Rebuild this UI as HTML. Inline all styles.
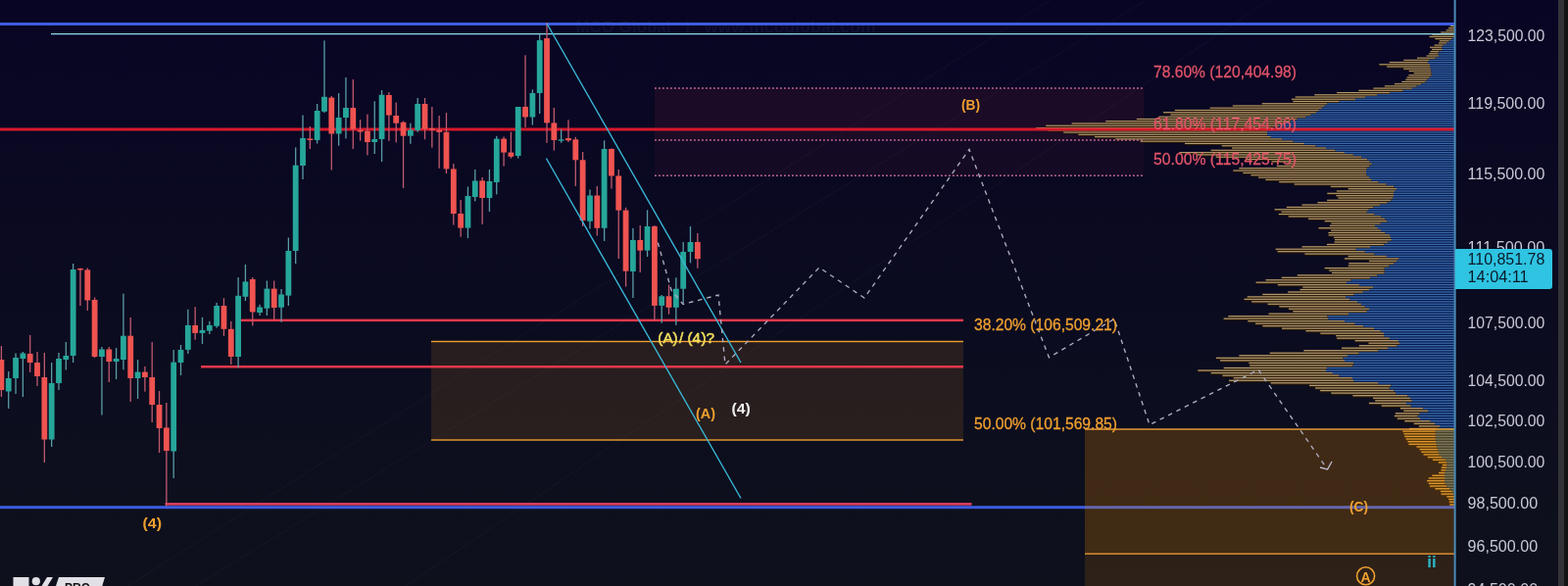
<!DOCTYPE html><html><head><meta charset="utf-8"><title>Chart</title><style>
html,body{margin:0;padding:0;width:1600px;height:598px;overflow:hidden;background:#080524;}
svg{display:block;position:absolute;left:0;top:0;}
text{font-family:"Liberation Sans","DejaVu Sans",sans-serif;}
</style></head><body>
<svg width="1600" height="598" viewBox="0 0 1600 598">
<defs><linearGradient id="bg" x1="0" y1="0" x2="0" y2="1"><stop offset="0" stop-color="#080524"/><stop offset="1" stop-color="#0e111c"/></linearGradient></defs>
<rect x="0" y="0" width="1600" height="598" fill="url(#bg)"/>
<text x="587.5" y="33" font-size="16" font-weight="bold" fill="#110f30" textLength="97" lengthAdjust="spacingAndGlyphs">MCO Global</text>
<text x="699.5" y="33" font-size="16" font-weight="bold" fill="#110f30">|</text>
<text x="718.7" y="33" font-size="16" font-weight="bold" fill="#110f30" textLength="175" lengthAdjust="spacingAndGlyphs">www.mcoglobal.com</text>
<line x1="0.0" y1="681.1" x2="1484.0" y2="-261.8" stroke="#ffffff" stroke-opacity="0.035" stroke-width="1"/>
<line x1="0.0" y1="721.0" x2="1484.0" y2="-194.0" stroke="#ffffff" stroke-opacity="0.035" stroke-width="1"/>
<line x1="0.0" y1="879.2" x2="1484.0" y2="-128.7" stroke="#ffffff" stroke-opacity="0.035" stroke-width="1"/>
<rect x="668" y="90" width="499" height="53" fill="#c83050" fill-opacity="0.10"/>
<rect x="668" y="143" width="499" height="36" fill="#c83050" fill-opacity="0.06"/>
<rect x="1479.9" y="26.00" width="4.1" height="2.16" fill="#2a1906"/>
<rect x="1479.9" y="26.00" width="4.1" height="1.08" fill="#b39a70"/>
<rect x="1478.0" y="28.16" width="6.0" height="2.16" fill="#2a1906"/>
<rect x="1478.0" y="28.16" width="6.0" height="1.08" fill="#b39a70"/>
<rect x="1475.7" y="30.32" width="8.3" height="2.16" fill="#2a1906"/>
<rect x="1475.7" y="30.32" width="8.3" height="1.08" fill="#b39a70"/>
<rect x="1470.1" y="32.48" width="13.9" height="2.17" fill="#2a1906"/>
<rect x="1470.1" y="32.48" width="13.9" height="1.08" fill="#b39a70"/>
<rect x="1461.5" y="34.65" width="22.5" height="2.17" fill="#2a1906"/>
<rect x="1461.5" y="34.65" width="22.5" height="1.08" fill="#b39a70"/>
<rect x="1458.5" y="36.82" width="25.5" height="2.17" fill="#2a1906"/>
<rect x="1458.5" y="36.82" width="25.5" height="1.09" fill="#b39a70"/>
<rect x="1481.2" y="38.99" width="2.8" height="2.17" fill="#031a50"/>
<rect x="1481.2" y="38.99" width="2.8" height="1.09" fill="#3e6cac"/>
<rect x="1464.3" y="38.99" width="16.9" height="2.17" fill="#2a1906"/>
<rect x="1464.3" y="38.99" width="16.9" height="1.09" fill="#b39a70"/>
<rect x="1478.7" y="41.16" width="5.3" height="2.17" fill="#031a50"/>
<rect x="1478.7" y="41.16" width="5.3" height="1.09" fill="#3e6cac"/>
<rect x="1468.8" y="41.16" width="9.8" height="2.17" fill="#2a1906"/>
<rect x="1468.8" y="41.16" width="9.8" height="1.09" fill="#b39a70"/>
<rect x="1476.3" y="43.33" width="7.7" height="2.18" fill="#031a50"/>
<rect x="1476.3" y="43.33" width="7.7" height="1.09" fill="#3e6cac"/>
<rect x="1468.1" y="43.33" width="8.2" height="2.18" fill="#2a1906"/>
<rect x="1468.1" y="43.33" width="8.2" height="1.09" fill="#b39a70"/>
<rect x="1472.7" y="45.51" width="11.3" height="2.18" fill="#031a50"/>
<rect x="1472.7" y="45.51" width="11.3" height="1.09" fill="#3e6cac"/>
<rect x="1463.6" y="45.51" width="9.1" height="2.18" fill="#2a1906"/>
<rect x="1463.6" y="45.51" width="9.1" height="1.09" fill="#b39a70"/>
<rect x="1471.2" y="47.69" width="12.8" height="2.18" fill="#031a50"/>
<rect x="1471.2" y="47.69" width="12.8" height="1.09" fill="#3e6cac"/>
<rect x="1459.0" y="47.69" width="12.2" height="2.18" fill="#2a1906"/>
<rect x="1459.0" y="47.69" width="12.2" height="1.09" fill="#b39a70"/>
<rect x="1471.8" y="49.87" width="12.2" height="2.18" fill="#031a50"/>
<rect x="1471.8" y="49.87" width="12.2" height="1.09" fill="#3e6cac"/>
<rect x="1461.1" y="49.87" width="10.6" height="2.18" fill="#2a1906"/>
<rect x="1461.1" y="49.87" width="10.6" height="1.09" fill="#b39a70"/>
<rect x="1468.5" y="52.06" width="15.5" height="2.19" fill="#031a50"/>
<rect x="1468.5" y="52.06" width="15.5" height="1.09" fill="#3e6cac"/>
<rect x="1459.5" y="52.06" width="8.9" height="2.19" fill="#2a1906"/>
<rect x="1459.5" y="52.06" width="8.9" height="1.09" fill="#b39a70"/>
<rect x="1467.4" y="54.24" width="16.6" height="2.19" fill="#031a50"/>
<rect x="1467.4" y="54.24" width="16.6" height="1.09" fill="#3e6cac"/>
<rect x="1458.0" y="54.24" width="9.4" height="2.19" fill="#2a1906"/>
<rect x="1458.0" y="54.24" width="9.4" height="1.09" fill="#b39a70"/>
<rect x="1468.2" y="56.43" width="15.8" height="2.19" fill="#031a50"/>
<rect x="1468.2" y="56.43" width="15.8" height="1.10" fill="#3e6cac"/>
<rect x="1455.6" y="56.43" width="12.6" height="2.19" fill="#2a1906"/>
<rect x="1455.6" y="56.43" width="12.6" height="1.10" fill="#b39a70"/>
<rect x="1464.4" y="58.62" width="19.6" height="2.19" fill="#031a50"/>
<rect x="1464.4" y="58.62" width="19.6" height="1.10" fill="#3e6cac"/>
<rect x="1446.0" y="58.62" width="18.5" height="2.19" fill="#2a1906"/>
<rect x="1446.0" y="58.62" width="18.5" height="1.10" fill="#b39a70"/>
<rect x="1458.2" y="60.81" width="25.8" height="2.20" fill="#031a50"/>
<rect x="1458.2" y="60.81" width="25.8" height="1.10" fill="#3e6cac"/>
<rect x="1432.3" y="60.81" width="26.0" height="2.20" fill="#2a1906"/>
<rect x="1432.3" y="60.81" width="26.0" height="1.10" fill="#b39a70"/>
<rect x="1456.9" y="63.01" width="27.1" height="2.20" fill="#031a50"/>
<rect x="1456.9" y="63.01" width="27.1" height="1.10" fill="#3e6cac"/>
<rect x="1417.7" y="63.01" width="39.2" height="2.20" fill="#2a1906"/>
<rect x="1417.7" y="63.01" width="39.2" height="1.10" fill="#b39a70"/>
<rect x="1459.0" y="65.21" width="25.0" height="2.20" fill="#031a50"/>
<rect x="1459.0" y="65.21" width="25.0" height="1.10" fill="#3e6cac"/>
<rect x="1407.4" y="65.21" width="51.6" height="2.20" fill="#2a1906"/>
<rect x="1407.4" y="65.21" width="51.6" height="1.10" fill="#b39a70"/>
<rect x="1459.4" y="67.41" width="24.6" height="2.20" fill="#031a50"/>
<rect x="1459.4" y="67.41" width="24.6" height="1.10" fill="#3e6cac"/>
<rect x="1415.2" y="67.41" width="44.2" height="2.20" fill="#2a1906"/>
<rect x="1415.2" y="67.41" width="44.2" height="1.10" fill="#b39a70"/>
<rect x="1459.8" y="69.61" width="24.2" height="2.20" fill="#031a50"/>
<rect x="1459.8" y="69.61" width="24.2" height="1.10" fill="#3e6cac"/>
<rect x="1432.1" y="69.61" width="27.7" height="2.20" fill="#2a1906"/>
<rect x="1432.1" y="69.61" width="27.7" height="1.10" fill="#b39a70"/>
<rect x="1460.2" y="71.81" width="23.8" height="2.21" fill="#031a50"/>
<rect x="1460.2" y="71.81" width="23.8" height="1.10" fill="#3e6cac"/>
<rect x="1437.7" y="71.81" width="22.5" height="2.21" fill="#2a1906"/>
<rect x="1437.7" y="71.81" width="22.5" height="1.10" fill="#b39a70"/>
<rect x="1460.6" y="74.02" width="23.4" height="2.21" fill="#031a50"/>
<rect x="1460.6" y="74.02" width="23.4" height="1.10" fill="#3e6cac"/>
<rect x="1442.6" y="74.02" width="18.0" height="2.21" fill="#2a1906"/>
<rect x="1442.6" y="74.02" width="18.0" height="1.10" fill="#b39a70"/>
<rect x="1460.7" y="76.23" width="23.3" height="2.21" fill="#031a50"/>
<rect x="1460.7" y="76.23" width="23.3" height="1.11" fill="#3e6cac"/>
<rect x="1437.4" y="76.23" width="23.2" height="2.21" fill="#2a1906"/>
<rect x="1437.4" y="76.23" width="23.2" height="1.11" fill="#b39a70"/>
<rect x="1458.5" y="78.44" width="25.5" height="2.21" fill="#031a50"/>
<rect x="1458.5" y="78.44" width="25.5" height="1.11" fill="#3e6cac"/>
<rect x="1435.6" y="78.44" width="22.9" height="2.21" fill="#2a1906"/>
<rect x="1435.6" y="78.44" width="22.9" height="1.11" fill="#b39a70"/>
<rect x="1456.4" y="80.65" width="27.6" height="2.22" fill="#031a50"/>
<rect x="1456.4" y="80.65" width="27.6" height="1.11" fill="#3e6cac"/>
<rect x="1434.3" y="80.65" width="22.0" height="2.22" fill="#2a1906"/>
<rect x="1434.3" y="80.65" width="22.0" height="1.11" fill="#b39a70"/>
<rect x="1454.2" y="82.87" width="29.8" height="2.22" fill="#031a50"/>
<rect x="1454.2" y="82.87" width="29.8" height="1.11" fill="#3e6cac"/>
<rect x="1430.4" y="82.87" width="23.8" height="2.22" fill="#2a1906"/>
<rect x="1430.4" y="82.87" width="23.8" height="1.11" fill="#b39a70"/>
<rect x="1450.1" y="85.09" width="33.9" height="2.22" fill="#031a50"/>
<rect x="1450.1" y="85.09" width="33.9" height="1.11" fill="#3e6cac"/>
<rect x="1423.0" y="85.09" width="27.1" height="2.22" fill="#2a1906"/>
<rect x="1423.0" y="85.09" width="27.1" height="1.11" fill="#b39a70"/>
<rect x="1445.5" y="87.31" width="38.5" height="2.22" fill="#031a50"/>
<rect x="1445.5" y="87.31" width="38.5" height="1.11" fill="#3e6cac"/>
<rect x="1412.9" y="87.31" width="32.6" height="2.22" fill="#2a1906"/>
<rect x="1412.9" y="87.31" width="32.6" height="1.11" fill="#b39a70"/>
<rect x="1441.0" y="89.53" width="43.0" height="2.23" fill="#031a50"/>
<rect x="1441.0" y="89.53" width="43.0" height="1.11" fill="#3e6cac"/>
<rect x="1401.4" y="89.53" width="39.5" height="2.23" fill="#2a1906"/>
<rect x="1401.4" y="89.53" width="39.5" height="1.11" fill="#b39a70"/>
<rect x="1431.5" y="91.75" width="52.5" height="2.23" fill="#031a50"/>
<rect x="1431.5" y="91.75" width="52.5" height="1.11" fill="#3e6cac"/>
<rect x="1386.3" y="91.75" width="45.2" height="2.23" fill="#2a1906"/>
<rect x="1386.3" y="91.75" width="45.2" height="1.11" fill="#b39a70"/>
<rect x="1418.3" y="93.98" width="65.7" height="2.23" fill="#031a50"/>
<rect x="1418.3" y="93.98" width="65.7" height="1.11" fill="#3e6cac"/>
<rect x="1364.2" y="93.98" width="54.1" height="2.23" fill="#2a1906"/>
<rect x="1364.2" y="93.98" width="54.1" height="1.11" fill="#b39a70"/>
<rect x="1405.1" y="96.21" width="78.9" height="2.23" fill="#031a50"/>
<rect x="1405.1" y="96.21" width="78.9" height="1.12" fill="#3e6cac"/>
<rect x="1341.3" y="96.21" width="63.8" height="2.23" fill="#2a1906"/>
<rect x="1341.3" y="96.21" width="63.8" height="1.12" fill="#b39a70"/>
<rect x="1393.2" y="98.44" width="90.8" height="2.23" fill="#031a50"/>
<rect x="1393.2" y="98.44" width="90.8" height="1.12" fill="#3e6cac"/>
<rect x="1321.7" y="98.44" width="71.5" height="2.23" fill="#2a1906"/>
<rect x="1321.7" y="98.44" width="71.5" height="1.12" fill="#b39a70"/>
<rect x="1383.1" y="100.68" width="100.9" height="2.24" fill="#031a50"/>
<rect x="1383.1" y="100.68" width="100.9" height="1.12" fill="#3e6cac"/>
<rect x="1317.9" y="100.68" width="65.1" height="2.24" fill="#2a1906"/>
<rect x="1317.9" y="100.68" width="65.1" height="1.12" fill="#b39a70"/>
<rect x="1366.6" y="102.91" width="117.4" height="2.24" fill="#031a50"/>
<rect x="1366.6" y="102.91" width="117.4" height="1.12" fill="#3e6cac"/>
<rect x="1319.4" y="102.91" width="47.1" height="2.24" fill="#2a1906"/>
<rect x="1319.4" y="102.91" width="47.1" height="1.12" fill="#b39a70"/>
<rect x="1354.2" y="105.15" width="129.8" height="2.24" fill="#031a50"/>
<rect x="1354.2" y="105.15" width="129.8" height="1.12" fill="#3e6cac"/>
<rect x="1287.7" y="105.15" width="66.5" height="2.24" fill="#2a1906"/>
<rect x="1287.7" y="105.15" width="66.5" height="1.12" fill="#b39a70"/>
<rect x="1351.5" y="107.40" width="132.5" height="2.24" fill="#031a50"/>
<rect x="1351.5" y="107.40" width="132.5" height="1.12" fill="#3e6cac"/>
<rect x="1257.8" y="107.40" width="93.7" height="2.24" fill="#2a1906"/>
<rect x="1257.8" y="107.40" width="93.7" height="1.12" fill="#b39a70"/>
<rect x="1348.8" y="109.64" width="135.2" height="2.25" fill="#031a50"/>
<rect x="1348.8" y="109.64" width="135.2" height="1.12" fill="#3e6cac"/>
<rect x="1234.7" y="109.64" width="114.1" height="2.25" fill="#2a1906"/>
<rect x="1234.7" y="109.64" width="114.1" height="1.12" fill="#b39a70"/>
<rect x="1345.8" y="111.89" width="138.2" height="2.25" fill="#031a50"/>
<rect x="1345.8" y="111.89" width="138.2" height="1.12" fill="#3e6cac"/>
<rect x="1198.8" y="111.89" width="147.0" height="2.25" fill="#2a1906"/>
<rect x="1198.8" y="111.89" width="147.0" height="1.12" fill="#b39a70"/>
<rect x="1342.9" y="114.13" width="141.1" height="2.25" fill="#031a50"/>
<rect x="1342.9" y="114.13" width="141.1" height="1.13" fill="#3e6cac"/>
<rect x="1187.1" y="114.13" width="155.8" height="2.25" fill="#2a1906"/>
<rect x="1187.1" y="114.13" width="155.8" height="1.13" fill="#b39a70"/>
<rect x="1337.6" y="116.39" width="146.4" height="2.25" fill="#031a50"/>
<rect x="1337.6" y="116.39" width="146.4" height="1.13" fill="#3e6cac"/>
<rect x="1194.4" y="116.39" width="143.2" height="2.25" fill="#2a1906"/>
<rect x="1194.4" y="116.39" width="143.2" height="1.13" fill="#b39a70"/>
<rect x="1332.4" y="118.64" width="151.6" height="2.26" fill="#031a50"/>
<rect x="1332.4" y="118.64" width="151.6" height="1.13" fill="#3e6cac"/>
<rect x="1182.3" y="118.64" width="150.1" height="2.26" fill="#2a1906"/>
<rect x="1182.3" y="118.64" width="150.1" height="1.13" fill="#b39a70"/>
<rect x="1323.4" y="120.90" width="160.6" height="2.26" fill="#031a50"/>
<rect x="1323.4" y="120.90" width="160.6" height="1.13" fill="#3e6cac"/>
<rect x="1159.8" y="120.90" width="163.6" height="2.26" fill="#2a1906"/>
<rect x="1159.8" y="120.90" width="163.6" height="1.13" fill="#b39a70"/>
<rect x="1316.5" y="123.15" width="167.5" height="2.26" fill="#031a50"/>
<rect x="1316.5" y="123.15" width="167.5" height="1.13" fill="#3e6cac"/>
<rect x="1128.2" y="123.15" width="188.2" height="2.26" fill="#2a1906"/>
<rect x="1128.2" y="123.15" width="188.2" height="1.13" fill="#b39a70"/>
<rect x="1310.7" y="125.41" width="173.3" height="2.26" fill="#031a50"/>
<rect x="1310.7" y="125.41" width="173.3" height="1.13" fill="#3e6cac"/>
<rect x="1093.6" y="125.41" width="217.1" height="2.26" fill="#2a1906"/>
<rect x="1093.6" y="125.41" width="217.1" height="1.13" fill="#b39a70"/>
<rect x="1305.0" y="127.68" width="179.0" height="2.27" fill="#031a50"/>
<rect x="1305.0" y="127.68" width="179.0" height="1.13" fill="#3e6cac"/>
<rect x="1067.2" y="127.68" width="237.8" height="2.27" fill="#2a1906"/>
<rect x="1067.2" y="127.68" width="237.8" height="1.13" fill="#b39a70"/>
<rect x="1299.4" y="129.94" width="184.6" height="2.27" fill="#031a50"/>
<rect x="1299.4" y="129.94" width="184.6" height="1.13" fill="#3e6cac"/>
<rect x="1057.4" y="129.94" width="242.0" height="2.27" fill="#2a1906"/>
<rect x="1057.4" y="129.94" width="242.0" height="1.13" fill="#b39a70"/>
<rect x="1293.9" y="132.21" width="190.1" height="2.27" fill="#031a50"/>
<rect x="1293.9" y="132.21" width="190.1" height="1.14" fill="#3e6cac"/>
<rect x="1069.2" y="132.21" width="224.7" height="2.27" fill="#2a1906"/>
<rect x="1069.2" y="132.21" width="224.7" height="1.14" fill="#b39a70"/>
<rect x="1293.0" y="134.48" width="191.0" height="2.27" fill="#031a50"/>
<rect x="1293.0" y="134.48" width="191.0" height="1.14" fill="#3e6cac"/>
<rect x="1085.2" y="134.48" width="207.8" height="2.27" fill="#2a1906"/>
<rect x="1085.2" y="134.48" width="207.8" height="1.14" fill="#b39a70"/>
<rect x="1293.0" y="136.76" width="191.0" height="2.28" fill="#031a50"/>
<rect x="1293.0" y="136.76" width="191.0" height="1.14" fill="#3e6cac"/>
<rect x="1100.3" y="136.76" width="192.7" height="2.28" fill="#2a1906"/>
<rect x="1100.3" y="136.76" width="192.7" height="1.14" fill="#b39a70"/>
<rect x="1296.8" y="139.03" width="187.2" height="2.28" fill="#031a50"/>
<rect x="1296.8" y="139.03" width="187.2" height="1.14" fill="#3e6cac"/>
<rect x="1117.0" y="139.03" width="179.8" height="2.28" fill="#2a1906"/>
<rect x="1117.0" y="139.03" width="179.8" height="1.14" fill="#b39a70"/>
<rect x="1308.2" y="141.31" width="175.8" height="2.28" fill="#031a50"/>
<rect x="1308.2" y="141.31" width="175.8" height="1.14" fill="#3e6cac"/>
<rect x="1138.3" y="141.31" width="169.9" height="2.28" fill="#2a1906"/>
<rect x="1138.3" y="141.31" width="169.9" height="1.14" fill="#b39a70"/>
<rect x="1319.7" y="143.59" width="164.3" height="2.28" fill="#031a50"/>
<rect x="1319.7" y="143.59" width="164.3" height="1.14" fill="#3e6cac"/>
<rect x="1163.5" y="143.59" width="156.1" height="2.28" fill="#2a1906"/>
<rect x="1163.5" y="143.59" width="156.1" height="1.14" fill="#b39a70"/>
<rect x="1331.1" y="145.87" width="152.9" height="2.29" fill="#031a50"/>
<rect x="1331.1" y="145.87" width="152.9" height="1.14" fill="#3e6cac"/>
<rect x="1209.0" y="145.87" width="122.0" height="2.29" fill="#2a1906"/>
<rect x="1209.0" y="145.87" width="122.0" height="1.14" fill="#b39a70"/>
<rect x="1342.5" y="148.16" width="141.5" height="2.29" fill="#031a50"/>
<rect x="1342.5" y="148.16" width="141.5" height="1.14" fill="#3e6cac"/>
<rect x="1246.7" y="148.16" width="95.8" height="2.29" fill="#2a1906"/>
<rect x="1246.7" y="148.16" width="95.8" height="1.14" fill="#b39a70"/>
<rect x="1353.1" y="150.45" width="130.9" height="2.29" fill="#031a50"/>
<rect x="1353.1" y="150.45" width="130.9" height="1.15" fill="#3e6cac"/>
<rect x="1257.0" y="150.45" width="96.0" height="2.29" fill="#2a1906"/>
<rect x="1257.0" y="150.45" width="96.0" height="1.15" fill="#b39a70"/>
<rect x="1362.5" y="152.74" width="121.5" height="2.29" fill="#031a50"/>
<rect x="1362.5" y="152.74" width="121.5" height="1.15" fill="#3e6cac"/>
<rect x="1235.7" y="152.74" width="126.8" height="2.29" fill="#2a1906"/>
<rect x="1235.7" y="152.74" width="126.8" height="1.15" fill="#b39a70"/>
<rect x="1371.9" y="155.03" width="112.1" height="2.30" fill="#031a50"/>
<rect x="1371.9" y="155.03" width="112.1" height="1.15" fill="#3e6cac"/>
<rect x="1203.3" y="155.03" width="168.6" height="2.30" fill="#2a1906"/>
<rect x="1203.3" y="155.03" width="168.6" height="1.15" fill="#b39a70"/>
<rect x="1380.8" y="157.32" width="103.2" height="2.30" fill="#031a50"/>
<rect x="1380.8" y="157.32" width="103.2" height="1.15" fill="#3e6cac"/>
<rect x="1221.0" y="157.32" width="159.8" height="2.30" fill="#2a1906"/>
<rect x="1221.0" y="157.32" width="159.8" height="1.15" fill="#b39a70"/>
<rect x="1389.6" y="159.62" width="94.4" height="2.30" fill="#031a50"/>
<rect x="1389.6" y="159.62" width="94.4" height="1.15" fill="#3e6cac"/>
<rect x="1240.6" y="159.62" width="149.0" height="2.30" fill="#2a1906"/>
<rect x="1240.6" y="159.62" width="149.0" height="1.15" fill="#b39a70"/>
<rect x="1395.3" y="161.92" width="88.7" height="2.30" fill="#031a50"/>
<rect x="1395.3" y="161.92" width="88.7" height="1.15" fill="#3e6cac"/>
<rect x="1271.3" y="161.92" width="123.9" height="2.30" fill="#2a1906"/>
<rect x="1271.3" y="161.92" width="123.9" height="1.15" fill="#b39a70"/>
<rect x="1397.7" y="164.22" width="86.3" height="2.31" fill="#031a50"/>
<rect x="1397.7" y="164.22" width="86.3" height="1.15" fill="#3e6cac"/>
<rect x="1297.5" y="164.22" width="100.2" height="2.31" fill="#2a1906"/>
<rect x="1297.5" y="164.22" width="100.2" height="1.15" fill="#b39a70"/>
<rect x="1399.8" y="166.53" width="84.2" height="2.31" fill="#031a50"/>
<rect x="1399.8" y="166.53" width="84.2" height="1.15" fill="#3e6cac"/>
<rect x="1312.9" y="166.53" width="86.9" height="2.31" fill="#2a1906"/>
<rect x="1312.9" y="166.53" width="86.9" height="1.15" fill="#b39a70"/>
<rect x="1397.3" y="168.84" width="86.7" height="2.31" fill="#031a50"/>
<rect x="1397.3" y="168.84" width="86.7" height="1.16" fill="#3e6cac"/>
<rect x="1302.8" y="168.84" width="94.5" height="2.31" fill="#2a1906"/>
<rect x="1302.8" y="168.84" width="94.5" height="1.16" fill="#b39a70"/>
<rect x="1394.8" y="171.15" width="89.2" height="2.31" fill="#031a50"/>
<rect x="1394.8" y="171.15" width="89.2" height="1.16" fill="#3e6cac"/>
<rect x="1264.3" y="171.15" width="130.5" height="2.31" fill="#2a1906"/>
<rect x="1264.3" y="171.15" width="130.5" height="1.16" fill="#b39a70"/>
<rect x="1394.0" y="173.46" width="90.0" height="2.32" fill="#031a50"/>
<rect x="1394.0" y="173.46" width="90.0" height="1.16" fill="#3e6cac"/>
<rect x="1258.3" y="173.46" width="135.7" height="2.32" fill="#2a1906"/>
<rect x="1258.3" y="173.46" width="135.7" height="1.16" fill="#b39a70"/>
<rect x="1394.0" y="175.78" width="90.0" height="2.32" fill="#031a50"/>
<rect x="1394.0" y="175.78" width="90.0" height="1.16" fill="#3e6cac"/>
<rect x="1268.3" y="175.78" width="125.7" height="2.32" fill="#2a1906"/>
<rect x="1268.3" y="175.78" width="125.7" height="1.16" fill="#b39a70"/>
<rect x="1394.6" y="178.09" width="89.4" height="2.32" fill="#031a50"/>
<rect x="1394.6" y="178.09" width="89.4" height="1.16" fill="#3e6cac"/>
<rect x="1276.4" y="178.09" width="118.2" height="2.32" fill="#2a1906"/>
<rect x="1276.4" y="178.09" width="118.2" height="1.16" fill="#b39a70"/>
<rect x="1397.0" y="180.41" width="87.0" height="2.32" fill="#031a50"/>
<rect x="1397.0" y="180.41" width="87.0" height="1.16" fill="#3e6cac"/>
<rect x="1284.0" y="180.41" width="113.0" height="2.32" fill="#2a1906"/>
<rect x="1284.0" y="180.41" width="113.0" height="1.16" fill="#b39a70"/>
<rect x="1399.5" y="182.74" width="84.5" height="2.33" fill="#031a50"/>
<rect x="1399.5" y="182.74" width="84.5" height="1.16" fill="#3e6cac"/>
<rect x="1291.4" y="182.74" width="108.1" height="2.33" fill="#2a1906"/>
<rect x="1291.4" y="182.74" width="108.1" height="1.16" fill="#b39a70"/>
<rect x="1406.4" y="185.06" width="77.6" height="2.33" fill="#031a50"/>
<rect x="1406.4" y="185.06" width="77.6" height="1.16" fill="#3e6cac"/>
<rect x="1305.2" y="185.06" width="101.2" height="2.33" fill="#2a1906"/>
<rect x="1305.2" y="185.06" width="101.2" height="1.16" fill="#b39a70"/>
<rect x="1414.5" y="187.39" width="69.5" height="2.33" fill="#031a50"/>
<rect x="1414.5" y="187.39" width="69.5" height="1.17" fill="#3e6cac"/>
<rect x="1320.7" y="187.39" width="93.8" height="2.33" fill="#2a1906"/>
<rect x="1320.7" y="187.39" width="93.8" height="1.17" fill="#b39a70"/>
<rect x="1422.4" y="189.72" width="61.6" height="2.33" fill="#031a50"/>
<rect x="1422.4" y="189.72" width="61.6" height="1.17" fill="#3e6cac"/>
<rect x="1357.8" y="189.72" width="64.6" height="2.33" fill="#2a1906"/>
<rect x="1357.8" y="189.72" width="64.6" height="1.17" fill="#b39a70"/>
<rect x="1425.0" y="192.06" width="59.0" height="2.34" fill="#031a50"/>
<rect x="1425.0" y="192.06" width="59.0" height="1.17" fill="#3e6cac"/>
<rect x="1375.7" y="192.06" width="49.3" height="2.34" fill="#2a1906"/>
<rect x="1375.7" y="192.06" width="49.3" height="1.17" fill="#b39a70"/>
<rect x="1423.0" y="194.39" width="61.0" height="2.34" fill="#031a50"/>
<rect x="1423.0" y="194.39" width="61.0" height="1.17" fill="#3e6cac"/>
<rect x="1363.9" y="194.39" width="59.1" height="2.34" fill="#2a1906"/>
<rect x="1363.9" y="194.39" width="59.1" height="1.17" fill="#b39a70"/>
<rect x="1422.0" y="196.73" width="62.0" height="2.34" fill="#031a50"/>
<rect x="1422.0" y="196.73" width="62.0" height="1.17" fill="#3e6cac"/>
<rect x="1354.3" y="196.73" width="67.7" height="2.34" fill="#2a1906"/>
<rect x="1354.3" y="196.73" width="67.7" height="1.17" fill="#b39a70"/>
<rect x="1422.0" y="199.07" width="62.0" height="2.34" fill="#031a50"/>
<rect x="1422.0" y="199.07" width="62.0" height="1.17" fill="#3e6cac"/>
<rect x="1363.4" y="199.07" width="58.6" height="2.34" fill="#2a1906"/>
<rect x="1363.4" y="199.07" width="58.6" height="1.17" fill="#b39a70"/>
<rect x="1421.2" y="201.41" width="62.8" height="2.35" fill="#031a50"/>
<rect x="1421.2" y="201.41" width="62.8" height="1.17" fill="#3e6cac"/>
<rect x="1365.4" y="201.41" width="55.8" height="2.35" fill="#2a1906"/>
<rect x="1365.4" y="201.41" width="55.8" height="1.17" fill="#b39a70"/>
<rect x="1419.3" y="203.76" width="64.7" height="2.35" fill="#031a50"/>
<rect x="1419.3" y="203.76" width="64.7" height="1.17" fill="#3e6cac"/>
<rect x="1354.1" y="203.76" width="65.1" height="2.35" fill="#2a1906"/>
<rect x="1354.1" y="203.76" width="65.1" height="1.17" fill="#b39a70"/>
<rect x="1415.5" y="206.11" width="68.5" height="2.35" fill="#031a50"/>
<rect x="1415.5" y="206.11" width="68.5" height="1.18" fill="#3e6cac"/>
<rect x="1344.5" y="206.11" width="71.0" height="2.35" fill="#2a1906"/>
<rect x="1344.5" y="206.11" width="71.0" height="1.18" fill="#b39a70"/>
<rect x="1408.1" y="208.46" width="75.9" height="2.35" fill="#031a50"/>
<rect x="1408.1" y="208.46" width="75.9" height="1.18" fill="#3e6cac"/>
<rect x="1328.5" y="208.46" width="79.6" height="2.35" fill="#2a1906"/>
<rect x="1328.5" y="208.46" width="79.6" height="1.18" fill="#b39a70"/>
<rect x="1401.4" y="210.82" width="82.6" height="2.36" fill="#031a50"/>
<rect x="1401.4" y="210.82" width="82.6" height="1.18" fill="#3e6cac"/>
<rect x="1312.8" y="210.82" width="88.6" height="2.36" fill="#2a1906"/>
<rect x="1312.8" y="210.82" width="88.6" height="1.18" fill="#b39a70"/>
<rect x="1396.7" y="213.17" width="87.3" height="2.36" fill="#031a50"/>
<rect x="1396.7" y="213.17" width="87.3" height="1.18" fill="#3e6cac"/>
<rect x="1300.6" y="213.17" width="96.1" height="2.36" fill="#2a1906"/>
<rect x="1300.6" y="213.17" width="96.1" height="1.18" fill="#b39a70"/>
<rect x="1394.7" y="215.53" width="89.3" height="2.36" fill="#031a50"/>
<rect x="1394.7" y="215.53" width="89.3" height="1.18" fill="#3e6cac"/>
<rect x="1307.5" y="215.53" width="87.2" height="2.36" fill="#2a1906"/>
<rect x="1307.5" y="215.53" width="87.2" height="1.18" fill="#b39a70"/>
<rect x="1402.3" y="217.89" width="81.7" height="2.36" fill="#031a50"/>
<rect x="1402.3" y="217.89" width="81.7" height="1.18" fill="#3e6cac"/>
<rect x="1304.8" y="217.89" width="97.5" height="2.36" fill="#2a1906"/>
<rect x="1304.8" y="217.89" width="97.5" height="1.18" fill="#b39a70"/>
<rect x="1409.3" y="220.26" width="74.7" height="2.37" fill="#031a50"/>
<rect x="1409.3" y="220.26" width="74.7" height="1.18" fill="#3e6cac"/>
<rect x="1314.7" y="220.26" width="94.6" height="2.37" fill="#2a1906"/>
<rect x="1314.7" y="220.26" width="94.6" height="1.18" fill="#b39a70"/>
<rect x="1413.2" y="222.63" width="70.8" height="2.37" fill="#031a50"/>
<rect x="1413.2" y="222.63" width="70.8" height="1.19" fill="#3e6cac"/>
<rect x="1335.0" y="222.63" width="78.2" height="2.37" fill="#2a1906"/>
<rect x="1335.0" y="222.63" width="78.2" height="1.19" fill="#b39a70"/>
<rect x="1415.3" y="225.00" width="68.7" height="2.37" fill="#031a50"/>
<rect x="1415.3" y="225.00" width="68.7" height="1.19" fill="#3e6cac"/>
<rect x="1351.7" y="225.00" width="63.6" height="2.37" fill="#2a1906"/>
<rect x="1351.7" y="225.00" width="63.6" height="1.19" fill="#b39a70"/>
<rect x="1408.7" y="227.37" width="75.3" height="2.38" fill="#031a50"/>
<rect x="1408.7" y="227.37" width="75.3" height="1.19" fill="#3e6cac"/>
<rect x="1358.3" y="227.37" width="50.4" height="2.38" fill="#2a1906"/>
<rect x="1358.3" y="227.37" width="50.4" height="1.19" fill="#b39a70"/>
<rect x="1403.1" y="229.74" width="80.9" height="2.38" fill="#031a50"/>
<rect x="1403.1" y="229.74" width="80.9" height="1.19" fill="#3e6cac"/>
<rect x="1356.8" y="229.74" width="46.3" height="2.38" fill="#2a1906"/>
<rect x="1356.8" y="229.74" width="46.3" height="1.19" fill="#b39a70"/>
<rect x="1406.0" y="232.12" width="78.0" height="2.38" fill="#031a50"/>
<rect x="1406.0" y="232.12" width="78.0" height="1.19" fill="#3e6cac"/>
<rect x="1345.5" y="232.12" width="60.4" height="2.38" fill="#2a1906"/>
<rect x="1345.5" y="232.12" width="60.4" height="1.19" fill="#b39a70"/>
<rect x="1409.0" y="234.50" width="75.0" height="2.38" fill="#031a50"/>
<rect x="1409.0" y="234.50" width="75.0" height="1.19" fill="#3e6cac"/>
<rect x="1358.1" y="234.50" width="50.9" height="2.38" fill="#2a1906"/>
<rect x="1358.1" y="234.50" width="50.9" height="1.19" fill="#b39a70"/>
<rect x="1413.5" y="236.89" width="70.5" height="2.39" fill="#031a50"/>
<rect x="1413.5" y="236.89" width="70.5" height="1.19" fill="#3e6cac"/>
<rect x="1355.4" y="236.89" width="58.1" height="2.39" fill="#2a1906"/>
<rect x="1355.4" y="236.89" width="58.1" height="1.19" fill="#b39a70"/>
<rect x="1418.0" y="239.27" width="66.0" height="2.39" fill="#031a50"/>
<rect x="1418.0" y="239.27" width="66.0" height="1.19" fill="#3e6cac"/>
<rect x="1355.6" y="239.27" width="62.5" height="2.39" fill="#2a1906"/>
<rect x="1355.6" y="239.27" width="62.5" height="1.19" fill="#b39a70"/>
<rect x="1419.0" y="241.66" width="65.0" height="2.39" fill="#031a50"/>
<rect x="1419.0" y="241.66" width="65.0" height="1.20" fill="#3e6cac"/>
<rect x="1361.1" y="241.66" width="58.0" height="2.39" fill="#2a1906"/>
<rect x="1361.1" y="241.66" width="58.0" height="1.20" fill="#b39a70"/>
<rect x="1419.9" y="244.05" width="64.1" height="2.39" fill="#031a50"/>
<rect x="1419.9" y="244.05" width="64.1" height="1.20" fill="#3e6cac"/>
<rect x="1362.0" y="244.05" width="57.9" height="2.39" fill="#2a1906"/>
<rect x="1362.0" y="244.05" width="57.9" height="1.20" fill="#b39a70"/>
<rect x="1416.2" y="246.45" width="67.8" height="2.40" fill="#031a50"/>
<rect x="1416.2" y="246.45" width="67.8" height="1.20" fill="#3e6cac"/>
<rect x="1361.6" y="246.45" width="54.6" height="2.40" fill="#2a1906"/>
<rect x="1361.6" y="246.45" width="54.6" height="1.20" fill="#b39a70"/>
<rect x="1412.2" y="248.84" width="71.8" height="2.40" fill="#031a50"/>
<rect x="1412.2" y="248.84" width="71.8" height="1.20" fill="#3e6cac"/>
<rect x="1353.9" y="248.84" width="58.3" height="2.40" fill="#2a1906"/>
<rect x="1353.9" y="248.84" width="58.3" height="1.20" fill="#b39a70"/>
<rect x="1398.0" y="251.24" width="86.0" height="2.40" fill="#031a50"/>
<rect x="1398.0" y="251.24" width="86.0" height="1.20" fill="#3e6cac"/>
<rect x="1328.5" y="251.24" width="69.5" height="2.40" fill="#2a1906"/>
<rect x="1328.5" y="251.24" width="69.5" height="1.20" fill="#b39a70"/>
<rect x="1383.7" y="253.65" width="100.3" height="2.41" fill="#031a50"/>
<rect x="1383.7" y="253.65" width="100.3" height="1.20" fill="#3e6cac"/>
<rect x="1301.6" y="253.65" width="82.1" height="2.41" fill="#2a1906"/>
<rect x="1301.6" y="253.65" width="82.1" height="1.20" fill="#b39a70"/>
<rect x="1392.7" y="256.05" width="91.3" height="2.41" fill="#031a50"/>
<rect x="1392.7" y="256.05" width="91.3" height="1.20" fill="#3e6cac"/>
<rect x="1303.6" y="256.05" width="89.1" height="2.41" fill="#2a1906"/>
<rect x="1303.6" y="256.05" width="89.1" height="1.20" fill="#b39a70"/>
<rect x="1402.3" y="258.46" width="81.7" height="2.41" fill="#031a50"/>
<rect x="1402.3" y="258.46" width="81.7" height="1.21" fill="#3e6cac"/>
<rect x="1331.4" y="258.46" width="70.8" height="2.41" fill="#2a1906"/>
<rect x="1331.4" y="258.46" width="70.8" height="1.21" fill="#b39a70"/>
<rect x="1414.8" y="260.87" width="69.2" height="2.41" fill="#031a50"/>
<rect x="1414.8" y="260.87" width="69.2" height="1.21" fill="#3e6cac"/>
<rect x="1375.6" y="260.87" width="39.2" height="2.41" fill="#2a1906"/>
<rect x="1375.6" y="260.87" width="39.2" height="1.21" fill="#b39a70"/>
<rect x="1427.4" y="263.28" width="56.6" height="2.42" fill="#031a50"/>
<rect x="1427.4" y="263.28" width="56.6" height="1.21" fill="#3e6cac"/>
<rect x="1372.0" y="263.28" width="55.5" height="2.42" fill="#2a1906"/>
<rect x="1372.0" y="263.28" width="55.5" height="1.21" fill="#b39a70"/>
<rect x="1425.1" y="265.70" width="58.9" height="2.42" fill="#031a50"/>
<rect x="1425.1" y="265.70" width="58.9" height="1.21" fill="#3e6cac"/>
<rect x="1396.9" y="265.70" width="28.2" height="2.42" fill="#2a1906"/>
<rect x="1396.9" y="265.70" width="28.2" height="1.21" fill="#b39a70"/>
<rect x="1422.1" y="268.12" width="61.9" height="2.42" fill="#031a50"/>
<rect x="1422.1" y="268.12" width="61.9" height="1.21" fill="#3e6cac"/>
<rect x="1376.3" y="268.12" width="45.8" height="2.42" fill="#2a1906"/>
<rect x="1376.3" y="268.12" width="45.8" height="1.21" fill="#b39a70"/>
<rect x="1417.4" y="270.54" width="66.6" height="2.42" fill="#031a50"/>
<rect x="1417.4" y="270.54" width="66.6" height="1.21" fill="#3e6cac"/>
<rect x="1375.7" y="270.54" width="41.7" height="2.42" fill="#2a1906"/>
<rect x="1375.7" y="270.54" width="41.7" height="1.21" fill="#b39a70"/>
<rect x="1412.7" y="272.96" width="71.3" height="2.43" fill="#031a50"/>
<rect x="1412.7" y="272.96" width="71.3" height="1.21" fill="#3e6cac"/>
<rect x="1351.7" y="272.96" width="61.0" height="2.43" fill="#2a1906"/>
<rect x="1351.7" y="272.96" width="61.0" height="1.21" fill="#b39a70"/>
<rect x="1412.5" y="275.39" width="71.5" height="2.43" fill="#031a50"/>
<rect x="1412.5" y="275.39" width="71.5" height="1.22" fill="#3e6cac"/>
<rect x="1356.3" y="275.39" width="56.2" height="2.43" fill="#2a1906"/>
<rect x="1356.3" y="275.39" width="56.2" height="1.22" fill="#b39a70"/>
<rect x="1412.5" y="277.82" width="71.5" height="2.43" fill="#031a50"/>
<rect x="1412.5" y="277.82" width="71.5" height="1.22" fill="#3e6cac"/>
<rect x="1358.9" y="277.82" width="53.6" height="2.43" fill="#2a1906"/>
<rect x="1358.9" y="277.82" width="53.6" height="1.22" fill="#b39a70"/>
<rect x="1405.1" y="280.25" width="78.9" height="2.44" fill="#031a50"/>
<rect x="1405.1" y="280.25" width="78.9" height="1.22" fill="#3e6cac"/>
<rect x="1323.8" y="280.25" width="81.3" height="2.44" fill="#2a1906"/>
<rect x="1323.8" y="280.25" width="81.3" height="1.22" fill="#b39a70"/>
<rect x="1398.0" y="282.69" width="86.0" height="2.44" fill="#031a50"/>
<rect x="1398.0" y="282.69" width="86.0" height="1.22" fill="#3e6cac"/>
<rect x="1307.8" y="282.69" width="90.2" height="2.44" fill="#2a1906"/>
<rect x="1307.8" y="282.69" width="90.2" height="1.22" fill="#b39a70"/>
<rect x="1378.5" y="285.13" width="105.5" height="2.44" fill="#031a50"/>
<rect x="1378.5" y="285.13" width="105.5" height="1.22" fill="#3e6cac"/>
<rect x="1291.5" y="285.13" width="87.0" height="2.44" fill="#2a1906"/>
<rect x="1291.5" y="285.13" width="87.0" height="1.22" fill="#b39a70"/>
<rect x="1373.9" y="287.57" width="110.1" height="2.44" fill="#031a50"/>
<rect x="1373.9" y="287.57" width="110.1" height="1.22" fill="#3e6cac"/>
<rect x="1281.6" y="287.57" width="92.4" height="2.44" fill="#2a1906"/>
<rect x="1281.6" y="287.57" width="92.4" height="1.22" fill="#b39a70"/>
<rect x="1386.9" y="290.01" width="97.1" height="2.45" fill="#031a50"/>
<rect x="1386.9" y="290.01" width="97.1" height="1.22" fill="#3e6cac"/>
<rect x="1303.8" y="290.01" width="83.1" height="2.45" fill="#2a1906"/>
<rect x="1303.8" y="290.01" width="83.1" height="1.22" fill="#b39a70"/>
<rect x="1401.1" y="292.46" width="82.9" height="2.45" fill="#031a50"/>
<rect x="1401.1" y="292.46" width="82.9" height="1.22" fill="#3e6cac"/>
<rect x="1329.3" y="292.46" width="71.8" height="2.45" fill="#2a1906"/>
<rect x="1329.3" y="292.46" width="71.8" height="1.22" fill="#b39a70"/>
<rect x="1397.0" y="294.91" width="87.0" height="2.45" fill="#031a50"/>
<rect x="1397.0" y="294.91" width="87.0" height="1.23" fill="#3e6cac"/>
<rect x="1326.5" y="294.91" width="70.5" height="2.45" fill="#2a1906"/>
<rect x="1326.5" y="294.91" width="70.5" height="1.23" fill="#b39a70"/>
<rect x="1390.8" y="297.36" width="93.2" height="2.46" fill="#031a50"/>
<rect x="1390.8" y="297.36" width="93.2" height="1.23" fill="#3e6cac"/>
<rect x="1314.2" y="297.36" width="76.6" height="2.46" fill="#2a1906"/>
<rect x="1314.2" y="297.36" width="76.6" height="1.23" fill="#b39a70"/>
<rect x="1381.5" y="299.82" width="102.5" height="2.46" fill="#031a50"/>
<rect x="1381.5" y="299.82" width="102.5" height="1.23" fill="#3e6cac"/>
<rect x="1288.3" y="299.82" width="93.2" height="2.46" fill="#2a1906"/>
<rect x="1288.3" y="299.82" width="93.2" height="1.23" fill="#b39a70"/>
<rect x="1372.9" y="302.28" width="111.1" height="2.46" fill="#031a50"/>
<rect x="1372.9" y="302.28" width="111.1" height="1.23" fill="#3e6cac"/>
<rect x="1272.7" y="302.28" width="100.3" height="2.46" fill="#2a1906"/>
<rect x="1272.7" y="302.28" width="100.3" height="1.23" fill="#b39a70"/>
<rect x="1377.3" y="304.74" width="106.7" height="2.46" fill="#031a50"/>
<rect x="1377.3" y="304.74" width="106.7" height="1.23" fill="#3e6cac"/>
<rect x="1269.5" y="304.74" width="107.8" height="2.46" fill="#2a1906"/>
<rect x="1269.5" y="304.74" width="107.8" height="1.23" fill="#b39a70"/>
<rect x="1385.0" y="307.20" width="99.0" height="2.47" fill="#031a50"/>
<rect x="1385.0" y="307.20" width="99.0" height="1.23" fill="#3e6cac"/>
<rect x="1277.2" y="307.20" width="107.8" height="2.47" fill="#2a1906"/>
<rect x="1277.2" y="307.20" width="107.8" height="1.23" fill="#b39a70"/>
<rect x="1388.9" y="309.67" width="95.1" height="2.47" fill="#031a50"/>
<rect x="1388.9" y="309.67" width="95.1" height="1.23" fill="#3e6cac"/>
<rect x="1293.6" y="309.67" width="95.3" height="2.47" fill="#2a1906"/>
<rect x="1293.6" y="309.67" width="95.3" height="1.23" fill="#b39a70"/>
<rect x="1392.8" y="312.14" width="91.2" height="2.47" fill="#031a50"/>
<rect x="1392.8" y="312.14" width="91.2" height="1.24" fill="#3e6cac"/>
<rect x="1305.3" y="312.14" width="87.4" height="2.47" fill="#2a1906"/>
<rect x="1305.3" y="312.14" width="87.4" height="1.24" fill="#b39a70"/>
<rect x="1397.0" y="314.61" width="87.0" height="2.48" fill="#031a50"/>
<rect x="1397.0" y="314.61" width="87.0" height="1.24" fill="#3e6cac"/>
<rect x="1315.0" y="314.61" width="82.0" height="2.48" fill="#2a1906"/>
<rect x="1315.0" y="314.61" width="82.0" height="1.24" fill="#b39a70"/>
<rect x="1394.5" y="317.09" width="89.5" height="2.48" fill="#031a50"/>
<rect x="1394.5" y="317.09" width="89.5" height="1.24" fill="#3e6cac"/>
<rect x="1319.3" y="317.09" width="75.2" height="2.48" fill="#2a1906"/>
<rect x="1319.3" y="317.09" width="75.2" height="1.24" fill="#b39a70"/>
<rect x="1376.0" y="319.57" width="108.0" height="2.48" fill="#031a50"/>
<rect x="1376.0" y="319.57" width="108.0" height="1.24" fill="#3e6cac"/>
<rect x="1294.6" y="319.57" width="81.4" height="2.48" fill="#2a1906"/>
<rect x="1294.6" y="319.57" width="81.4" height="1.24" fill="#b39a70"/>
<rect x="1354.6" y="322.05" width="129.4" height="2.48" fill="#031a50"/>
<rect x="1354.6" y="322.05" width="129.4" height="1.24" fill="#3e6cac"/>
<rect x="1253.3" y="322.05" width="101.2" height="2.48" fill="#2a1906"/>
<rect x="1253.3" y="322.05" width="101.2" height="1.24" fill="#b39a70"/>
<rect x="1355.3" y="324.53" width="128.7" height="2.49" fill="#031a50"/>
<rect x="1355.3" y="324.53" width="128.7" height="1.24" fill="#3e6cac"/>
<rect x="1248.6" y="324.53" width="106.7" height="2.49" fill="#2a1906"/>
<rect x="1248.6" y="324.53" width="106.7" height="1.24" fill="#b39a70"/>
<rect x="1372.1" y="327.02" width="111.9" height="2.49" fill="#031a50"/>
<rect x="1372.1" y="327.02" width="111.9" height="1.25" fill="#3e6cac"/>
<rect x="1273.3" y="327.02" width="98.7" height="2.49" fill="#2a1906"/>
<rect x="1273.3" y="327.02" width="98.7" height="1.25" fill="#b39a70"/>
<rect x="1382.6" y="329.51" width="101.4" height="2.49" fill="#031a50"/>
<rect x="1382.6" y="329.51" width="101.4" height="1.25" fill="#3e6cac"/>
<rect x="1281.0" y="329.51" width="101.7" height="2.49" fill="#2a1906"/>
<rect x="1281.0" y="329.51" width="101.7" height="1.25" fill="#b39a70"/>
<rect x="1391.3" y="332.00" width="92.7" height="2.50" fill="#031a50"/>
<rect x="1391.3" y="332.00" width="92.7" height="1.25" fill="#3e6cac"/>
<rect x="1288.3" y="332.00" width="102.9" height="2.50" fill="#2a1906"/>
<rect x="1288.3" y="332.00" width="102.9" height="1.25" fill="#b39a70"/>
<rect x="1402.1" y="334.50" width="81.9" height="2.50" fill="#031a50"/>
<rect x="1402.1" y="334.50" width="81.9" height="1.25" fill="#3e6cac"/>
<rect x="1308.0" y="334.50" width="94.1" height="2.50" fill="#2a1906"/>
<rect x="1308.0" y="334.50" width="94.1" height="1.25" fill="#b39a70"/>
<rect x="1408.7" y="337.00" width="75.3" height="2.50" fill="#031a50"/>
<rect x="1408.7" y="337.00" width="75.3" height="1.25" fill="#3e6cac"/>
<rect x="1332.5" y="337.00" width="76.2" height="2.50" fill="#2a1906"/>
<rect x="1332.5" y="337.00" width="76.2" height="1.25" fill="#b39a70"/>
<rect x="1412.0" y="339.50" width="72.0" height="2.51" fill="#031a50"/>
<rect x="1412.0" y="339.50" width="72.0" height="1.25" fill="#3e6cac"/>
<rect x="1347.3" y="339.50" width="64.7" height="2.51" fill="#2a1906"/>
<rect x="1347.3" y="339.50" width="64.7" height="1.25" fill="#b39a70"/>
<rect x="1412.5" y="342.01" width="71.5" height="2.51" fill="#031a50"/>
<rect x="1412.5" y="342.01" width="71.5" height="1.25" fill="#3e6cac"/>
<rect x="1363.1" y="342.01" width="49.4" height="2.51" fill="#2a1906"/>
<rect x="1363.1" y="342.01" width="49.4" height="1.25" fill="#b39a70"/>
<rect x="1417.8" y="344.51" width="66.2" height="2.51" fill="#031a50"/>
<rect x="1417.8" y="344.51" width="66.2" height="1.26" fill="#3e6cac"/>
<rect x="1364.2" y="344.51" width="53.6" height="2.51" fill="#2a1906"/>
<rect x="1364.2" y="344.51" width="53.6" height="1.26" fill="#b39a70"/>
<rect x="1426.9" y="347.02" width="57.1" height="2.51" fill="#031a50"/>
<rect x="1426.9" y="347.02" width="57.1" height="1.26" fill="#3e6cac"/>
<rect x="1382.6" y="347.02" width="44.3" height="2.51" fill="#2a1906"/>
<rect x="1382.6" y="347.02" width="44.3" height="1.26" fill="#b39a70"/>
<rect x="1428.2" y="349.54" width="55.8" height="2.52" fill="#031a50"/>
<rect x="1428.2" y="349.54" width="55.8" height="1.26" fill="#3e6cac"/>
<rect x="1396.5" y="349.54" width="31.7" height="2.52" fill="#2a1906"/>
<rect x="1396.5" y="349.54" width="31.7" height="1.26" fill="#b39a70"/>
<rect x="1425.4" y="352.06" width="58.6" height="2.52" fill="#031a50"/>
<rect x="1425.4" y="352.06" width="58.6" height="1.26" fill="#3e6cac"/>
<rect x="1386.8" y="352.06" width="38.6" height="2.52" fill="#2a1906"/>
<rect x="1386.8" y="352.06" width="38.6" height="1.26" fill="#b39a70"/>
<rect x="1416.0" y="354.58" width="68.0" height="2.52" fill="#031a50"/>
<rect x="1416.0" y="354.58" width="68.0" height="1.26" fill="#3e6cac"/>
<rect x="1369.0" y="354.58" width="47.0" height="2.52" fill="#2a1906"/>
<rect x="1369.0" y="354.58" width="47.0" height="1.26" fill="#b39a70"/>
<rect x="1406.2" y="357.10" width="77.8" height="2.53" fill="#031a50"/>
<rect x="1406.2" y="357.10" width="77.8" height="1.26" fill="#3e6cac"/>
<rect x="1330.4" y="357.10" width="75.9" height="2.53" fill="#2a1906"/>
<rect x="1330.4" y="357.10" width="75.9" height="1.26" fill="#b39a70"/>
<rect x="1386.5" y="359.62" width="97.5" height="2.53" fill="#031a50"/>
<rect x="1386.5" y="359.62" width="97.5" height="1.26" fill="#3e6cac"/>
<rect x="1295.7" y="359.62" width="90.9" height="2.53" fill="#2a1906"/>
<rect x="1295.7" y="359.62" width="90.9" height="1.26" fill="#b39a70"/>
<rect x="1375.0" y="362.15" width="109.0" height="2.53" fill="#031a50"/>
<rect x="1375.0" y="362.15" width="109.0" height="1.27" fill="#3e6cac"/>
<rect x="1264.4" y="362.15" width="110.6" height="2.53" fill="#2a1906"/>
<rect x="1264.4" y="362.15" width="110.6" height="1.27" fill="#b39a70"/>
<rect x="1370.4" y="364.69" width="113.6" height="2.54" fill="#031a50"/>
<rect x="1370.4" y="364.69" width="113.6" height="1.27" fill="#3e6cac"/>
<rect x="1240.9" y="364.69" width="129.5" height="2.54" fill="#2a1906"/>
<rect x="1240.9" y="364.69" width="129.5" height="1.27" fill="#b39a70"/>
<rect x="1372.0" y="367.22" width="112.0" height="2.54" fill="#031a50"/>
<rect x="1372.0" y="367.22" width="112.0" height="1.27" fill="#3e6cac"/>
<rect x="1245.1" y="367.22" width="126.9" height="2.54" fill="#2a1906"/>
<rect x="1245.1" y="367.22" width="126.9" height="1.27" fill="#b39a70"/>
<rect x="1381.3" y="369.76" width="102.7" height="2.54" fill="#031a50"/>
<rect x="1381.3" y="369.76" width="102.7" height="1.27" fill="#3e6cac"/>
<rect x="1274.4" y="369.76" width="106.9" height="2.54" fill="#2a1906"/>
<rect x="1274.4" y="369.76" width="106.9" height="1.27" fill="#b39a70"/>
<rect x="1380.5" y="372.30" width="103.5" height="2.54" fill="#031a50"/>
<rect x="1380.5" y="372.30" width="103.5" height="1.27" fill="#3e6cac"/>
<rect x="1275.2" y="372.30" width="105.2" height="2.54" fill="#2a1906"/>
<rect x="1275.2" y="372.30" width="105.2" height="1.27" fill="#b39a70"/>
<rect x="1353.9" y="374.84" width="130.1" height="2.55" fill="#031a50"/>
<rect x="1353.9" y="374.84" width="130.1" height="1.27" fill="#3e6cac"/>
<rect x="1248.7" y="374.84" width="105.1" height="2.55" fill="#2a1906"/>
<rect x="1248.7" y="374.84" width="105.1" height="1.27" fill="#b39a70"/>
<rect x="1353.0" y="377.39" width="131.0" height="2.55" fill="#031a50"/>
<rect x="1353.0" y="377.39" width="131.0" height="1.28" fill="#3e6cac"/>
<rect x="1222.3" y="377.39" width="130.7" height="2.55" fill="#2a1906"/>
<rect x="1222.3" y="377.39" width="130.7" height="1.28" fill="#b39a70"/>
<rect x="1359.8" y="379.94" width="124.2" height="2.55" fill="#031a50"/>
<rect x="1359.8" y="379.94" width="124.2" height="1.28" fill="#3e6cac"/>
<rect x="1235.6" y="379.94" width="124.3" height="2.55" fill="#2a1906"/>
<rect x="1235.6" y="379.94" width="124.3" height="1.28" fill="#b39a70"/>
<rect x="1366.5" y="382.50" width="117.5" height="2.56" fill="#031a50"/>
<rect x="1366.5" y="382.50" width="117.5" height="1.28" fill="#3e6cac"/>
<rect x="1247.4" y="382.50" width="119.1" height="2.56" fill="#2a1906"/>
<rect x="1247.4" y="382.50" width="119.1" height="1.28" fill="#b39a70"/>
<rect x="1379.9" y="385.05" width="104.1" height="2.56" fill="#031a50"/>
<rect x="1379.9" y="385.05" width="104.1" height="1.28" fill="#3e6cac"/>
<rect x="1258.7" y="385.05" width="121.2" height="2.56" fill="#2a1906"/>
<rect x="1258.7" y="385.05" width="121.2" height="1.28" fill="#b39a70"/>
<rect x="1381.3" y="387.61" width="102.7" height="2.56" fill="#031a50"/>
<rect x="1381.3" y="387.61" width="102.7" height="1.28" fill="#3e6cac"/>
<rect x="1254.0" y="387.61" width="127.3" height="2.56" fill="#2a1906"/>
<rect x="1254.0" y="387.61" width="127.3" height="1.28" fill="#b39a70"/>
<rect x="1406.1" y="390.17" width="77.9" height="2.57" fill="#031a50"/>
<rect x="1406.1" y="390.17" width="77.9" height="1.28" fill="#3e6cac"/>
<rect x="1296.6" y="390.17" width="109.5" height="2.57" fill="#2a1906"/>
<rect x="1296.6" y="390.17" width="109.5" height="1.28" fill="#b39a70"/>
<rect x="1419.3" y="392.74" width="64.7" height="2.57" fill="#031a50"/>
<rect x="1419.3" y="392.74" width="64.7" height="1.28" fill="#3e6cac"/>
<rect x="1336.1" y="392.74" width="83.2" height="2.57" fill="#2a1906"/>
<rect x="1336.1" y="392.74" width="83.2" height="1.28" fill="#b39a70"/>
<rect x="1417.6" y="395.31" width="66.4" height="2.57" fill="#031a50"/>
<rect x="1417.6" y="395.31" width="66.4" height="1.29" fill="#3e6cac"/>
<rect x="1342.1" y="395.31" width="75.5" height="2.57" fill="#2a1906"/>
<rect x="1342.1" y="395.31" width="75.5" height="1.29" fill="#b39a70"/>
<rect x="1422.4" y="397.88" width="61.6" height="2.58" fill="#031a50"/>
<rect x="1422.4" y="397.88" width="61.6" height="1.29" fill="#3e6cac"/>
<rect x="1347.1" y="397.88" width="75.3" height="2.58" fill="#2a1906"/>
<rect x="1347.1" y="397.88" width="75.3" height="1.29" fill="#b39a70"/>
<rect x="1424.5" y="400.46" width="59.5" height="2.58" fill="#031a50"/>
<rect x="1424.5" y="400.46" width="59.5" height="1.29" fill="#3e6cac"/>
<rect x="1358.3" y="400.46" width="66.2" height="2.58" fill="#2a1906"/>
<rect x="1358.3" y="400.46" width="66.2" height="1.29" fill="#b39a70"/>
<rect x="1436.2" y="403.04" width="47.8" height="2.58" fill="#031a50"/>
<rect x="1436.2" y="403.04" width="47.8" height="1.29" fill="#3e6cac"/>
<rect x="1380.4" y="403.04" width="55.8" height="2.58" fill="#2a1906"/>
<rect x="1380.4" y="403.04" width="55.8" height="1.29" fill="#b39a70"/>
<rect x="1439.3" y="405.62" width="44.7" height="2.58" fill="#031a50"/>
<rect x="1439.3" y="405.62" width="44.7" height="1.29" fill="#3e6cac"/>
<rect x="1401.1" y="405.62" width="38.2" height="2.58" fill="#2a1906"/>
<rect x="1401.1" y="405.62" width="38.2" height="1.29" fill="#b39a70"/>
<rect x="1440.8" y="408.20" width="43.2" height="2.59" fill="#031a50"/>
<rect x="1440.8" y="408.20" width="43.2" height="1.29" fill="#3e6cac"/>
<rect x="1403.2" y="408.20" width="37.6" height="2.59" fill="#2a1906"/>
<rect x="1403.2" y="408.20" width="37.6" height="1.29" fill="#b39a70"/>
<rect x="1434.9" y="410.79" width="49.1" height="2.59" fill="#031a50"/>
<rect x="1434.9" y="410.79" width="49.1" height="1.30" fill="#3e6cac"/>
<rect x="1396.9" y="410.79" width="38.0" height="2.59" fill="#2a1906"/>
<rect x="1396.9" y="410.79" width="38.0" height="1.30" fill="#b39a70"/>
<rect x="1439.6" y="413.38" width="44.4" height="2.59" fill="#031a50"/>
<rect x="1439.6" y="413.38" width="44.4" height="1.30" fill="#3e6cac"/>
<rect x="1409.7" y="413.38" width="29.9" height="2.59" fill="#2a1906"/>
<rect x="1409.7" y="413.38" width="29.9" height="1.30" fill="#b39a70"/>
<rect x="1452.2" y="415.98" width="31.8" height="2.60" fill="#031a50"/>
<rect x="1452.2" y="415.98" width="31.8" height="1.30" fill="#3e6cac"/>
<rect x="1429.0" y="415.98" width="23.2" height="2.60" fill="#2a1906"/>
<rect x="1429.0" y="415.98" width="23.2" height="1.30" fill="#b39a70"/>
<rect x="1457.1" y="418.57" width="26.9" height="2.60" fill="#031a50"/>
<rect x="1457.1" y="418.57" width="26.9" height="1.30" fill="#3e6cac"/>
<rect x="1432.3" y="418.57" width="24.8" height="2.60" fill="#2a1906"/>
<rect x="1432.3" y="418.57" width="24.8" height="1.30" fill="#b39a70"/>
<rect x="1448.6" y="421.17" width="35.4" height="2.60" fill="#031a50"/>
<rect x="1448.6" y="421.17" width="35.4" height="1.30" fill="#3e6cac"/>
<rect x="1423.9" y="421.17" width="24.7" height="2.60" fill="#2a1906"/>
<rect x="1423.9" y="421.17" width="24.7" height="1.30" fill="#b39a70"/>
<rect x="1446.5" y="423.78" width="37.5" height="2.61" fill="#031a50"/>
<rect x="1446.5" y="423.78" width="37.5" height="1.30" fill="#3e6cac"/>
<rect x="1422.8" y="423.78" width="23.7" height="2.61" fill="#2a1906"/>
<rect x="1422.8" y="423.78" width="23.7" height="1.30" fill="#b39a70"/>
<rect x="1449.2" y="426.38" width="34.8" height="2.61" fill="#031a50"/>
<rect x="1449.2" y="426.38" width="34.8" height="1.31" fill="#3e6cac"/>
<rect x="1425.8" y="426.38" width="23.4" height="2.61" fill="#2a1906"/>
<rect x="1425.8" y="426.38" width="23.4" height="1.31" fill="#b39a70"/>
<rect x="1459.5" y="429.00" width="24.5" height="2.61" fill="#031a50"/>
<rect x="1459.5" y="429.00" width="24.5" height="1.31" fill="#3e6cac"/>
<rect x="1433.3" y="429.00" width="26.2" height="2.61" fill="#2a1906"/>
<rect x="1433.3" y="429.00" width="26.2" height="1.31" fill="#b39a70"/>
<rect x="1464.1" y="431.61" width="19.9" height="2.62" fill="#031a50"/>
<rect x="1464.1" y="431.61" width="19.9" height="1.31" fill="#3e6cac"/>
<rect x="1442.7" y="431.61" width="21.4" height="2.62" fill="#2a1906"/>
<rect x="1442.7" y="431.61" width="21.4" height="1.31" fill="#b39a70"/>
<rect x="1468.9" y="434.23" width="15.1" height="2.62" fill="#031a50"/>
<rect x="1468.9" y="434.23" width="15.1" height="1.31" fill="#3e6cac"/>
<rect x="1447.8" y="434.23" width="21.2" height="2.62" fill="#2a1906"/>
<rect x="1447.8" y="434.23" width="21.2" height="1.31" fill="#b39a70"/>
<rect x="1466.3" y="436.85" width="17.7" height="2.62" fill="#1a2a30"/>
<rect x="1466.3" y="436.85" width="17.7" height="1.31" fill="#5a7880"/>
<rect x="1437.9" y="436.85" width="28.4" height="2.62" fill="#2a1a08"/>
<rect x="1437.9" y="436.85" width="28.4" height="1.31" fill="#dca040"/>
<rect x="1464.8" y="439.47" width="19.2" height="2.63" fill="#1a2a30"/>
<rect x="1464.8" y="439.47" width="19.2" height="1.31" fill="#5a7880"/>
<rect x="1431.2" y="439.47" width="33.6" height="2.63" fill="#2a1a08"/>
<rect x="1431.2" y="439.47" width="33.6" height="1.31" fill="#dca040"/>
<rect x="1464.8" y="442.10" width="19.2" height="2.63" fill="#1a2a30"/>
<rect x="1464.8" y="442.10" width="19.2" height="1.31" fill="#5a7880"/>
<rect x="1432.5" y="442.10" width="32.3" height="2.63" fill="#2a1a08"/>
<rect x="1432.5" y="442.10" width="32.3" height="1.31" fill="#dca040"/>
<rect x="1464.8" y="444.73" width="19.2" height="2.63" fill="#1a2a30"/>
<rect x="1464.8" y="444.73" width="19.2" height="1.32" fill="#5a7880"/>
<rect x="1433.2" y="444.73" width="31.6" height="2.63" fill="#2a1a08"/>
<rect x="1433.2" y="444.73" width="31.6" height="1.32" fill="#dca040"/>
<rect x="1464.8" y="447.36" width="19.2" height="2.64" fill="#1a2a30"/>
<rect x="1464.8" y="447.36" width="19.2" height="1.32" fill="#5a7880"/>
<rect x="1434.7" y="447.36" width="30.1" height="2.64" fill="#2a1a08"/>
<rect x="1434.7" y="447.36" width="30.1" height="1.32" fill="#dca040"/>
<rect x="1465.1" y="450.00" width="18.9" height="2.64" fill="#1a2a30"/>
<rect x="1465.1" y="450.00" width="18.9" height="1.32" fill="#5a7880"/>
<rect x="1436.4" y="450.00" width="28.7" height="2.64" fill="#2a1a08"/>
<rect x="1436.4" y="450.00" width="28.7" height="1.32" fill="#dca040"/>
<rect x="1465.7" y="452.63" width="18.3" height="2.64" fill="#1a2a30"/>
<rect x="1465.7" y="452.63" width="18.3" height="1.32" fill="#5a7880"/>
<rect x="1437.5" y="452.63" width="28.2" height="2.64" fill="#2a1a08"/>
<rect x="1437.5" y="452.63" width="28.2" height="1.32" fill="#dca040"/>
<rect x="1466.3" y="455.28" width="17.7" height="2.65" fill="#1a2a30"/>
<rect x="1466.3" y="455.28" width="17.7" height="1.32" fill="#5a7880"/>
<rect x="1445.5" y="455.28" width="20.8" height="2.65" fill="#2a1a08"/>
<rect x="1445.5" y="455.28" width="20.8" height="1.32" fill="#dca040"/>
<rect x="1466.8" y="457.92" width="17.2" height="2.65" fill="#1a2a30"/>
<rect x="1466.8" y="457.92" width="17.2" height="1.32" fill="#5a7880"/>
<rect x="1448.6" y="457.92" width="18.2" height="2.65" fill="#2a1a08"/>
<rect x="1448.6" y="457.92" width="18.2" height="1.32" fill="#dca040"/>
<rect x="1467.7" y="460.57" width="16.3" height="2.65" fill="#1a2a30"/>
<rect x="1467.7" y="460.57" width="16.3" height="1.33" fill="#5a7880"/>
<rect x="1450.3" y="460.57" width="17.5" height="2.65" fill="#2a1a08"/>
<rect x="1450.3" y="460.57" width="17.5" height="1.33" fill="#dca040"/>
<rect x="1468.7" y="463.23" width="15.3" height="2.66" fill="#1a2a30"/>
<rect x="1468.7" y="463.23" width="15.3" height="1.33" fill="#5a7880"/>
<rect x="1452.6" y="463.23" width="16.1" height="2.66" fill="#2a1a08"/>
<rect x="1452.6" y="463.23" width="16.1" height="1.33" fill="#dca040"/>
<rect x="1471.0" y="465.88" width="13.0" height="2.66" fill="#1a2a30"/>
<rect x="1471.0" y="465.88" width="13.0" height="1.33" fill="#5a7880"/>
<rect x="1456.8" y="465.88" width="14.3" height="2.66" fill="#2a1a08"/>
<rect x="1456.8" y="465.88" width="14.3" height="1.33" fill="#dca040"/>
<rect x="1474.8" y="468.54" width="9.2" height="2.66" fill="#1a2a30"/>
<rect x="1474.8" y="468.54" width="9.2" height="1.33" fill="#5a7880"/>
<rect x="1461.9" y="468.54" width="12.9" height="2.66" fill="#2a1a08"/>
<rect x="1461.9" y="468.54" width="12.9" height="1.33" fill="#dca040"/>
<rect x="1476.4" y="471.21" width="7.6" height="2.67" fill="#1a2a30"/>
<rect x="1476.4" y="471.21" width="7.6" height="1.33" fill="#5a7880"/>
<rect x="1467.9" y="471.21" width="8.5" height="2.67" fill="#2a1a08"/>
<rect x="1467.9" y="471.21" width="8.5" height="1.33" fill="#dca040"/>
<rect x="1476.4" y="473.87" width="7.6" height="2.67" fill="#1a2a30"/>
<rect x="1476.4" y="473.87" width="7.6" height="1.33" fill="#5a7880"/>
<rect x="1471.8" y="473.87" width="4.6" height="2.67" fill="#2a1a08"/>
<rect x="1471.8" y="473.87" width="4.6" height="1.33" fill="#dca040"/>
<rect x="1476.0" y="476.54" width="8.0" height="2.67" fill="#1a2a30"/>
<rect x="1476.0" y="476.54" width="8.0" height="1.34" fill="#5a7880"/>
<rect x="1470.8" y="476.54" width="5.2" height="2.67" fill="#2a1a08"/>
<rect x="1470.8" y="476.54" width="5.2" height="1.34" fill="#dca040"/>
<rect x="1475.0" y="479.22" width="9.0" height="2.68" fill="#1a2a30"/>
<rect x="1475.0" y="479.22" width="9.0" height="1.34" fill="#5a7880"/>
<rect x="1470.4" y="479.22" width="4.6" height="2.68" fill="#2a1a08"/>
<rect x="1470.4" y="479.22" width="4.6" height="1.34" fill="#dca040"/>
<rect x="1474.0" y="481.89" width="10.0" height="2.68" fill="#1a2a30"/>
<rect x="1474.0" y="481.89" width="10.0" height="1.34" fill="#5a7880"/>
<rect x="1468.1" y="481.89" width="5.9" height="2.68" fill="#2a1a08"/>
<rect x="1468.1" y="481.89" width="5.9" height="1.34" fill="#dca040"/>
<rect x="1474.0" y="484.57" width="10.0" height="2.68" fill="#1a2a30"/>
<rect x="1474.0" y="484.57" width="10.0" height="1.34" fill="#5a7880"/>
<rect x="1461.3" y="484.57" width="12.7" height="2.68" fill="#2a1a08"/>
<rect x="1461.3" y="484.57" width="12.7" height="1.34" fill="#dca040"/>
<rect x="1474.0" y="487.26" width="10.0" height="2.69" fill="#1a2a30"/>
<rect x="1474.0" y="487.26" width="10.0" height="1.34" fill="#5a7880"/>
<rect x="1457.8" y="487.26" width="16.2" height="2.69" fill="#2a1a08"/>
<rect x="1457.8" y="487.26" width="16.2" height="1.34" fill="#dca040"/>
<rect x="1474.2" y="489.94" width="9.8" height="2.69" fill="#1a2a30"/>
<rect x="1474.2" y="489.94" width="9.8" height="1.35" fill="#5a7880"/>
<rect x="1456.1" y="489.94" width="18.1" height="2.69" fill="#2a1a08"/>
<rect x="1456.1" y="489.94" width="18.1" height="1.35" fill="#dca040"/>
<rect x="1474.5" y="492.63" width="9.5" height="2.69" fill="#1a2a30"/>
<rect x="1474.5" y="492.63" width="9.5" height="1.35" fill="#5a7880"/>
<rect x="1457.7" y="492.63" width="16.8" height="2.69" fill="#2a1a08"/>
<rect x="1457.7" y="492.63" width="16.8" height="1.35" fill="#dca040"/>
<rect x="1476.4" y="495.33" width="7.6" height="2.70" fill="#1a2a30"/>
<rect x="1476.4" y="495.33" width="7.6" height="1.35" fill="#5a7880"/>
<rect x="1458.9" y="495.33" width="17.5" height="2.70" fill="#2a1a08"/>
<rect x="1458.9" y="495.33" width="17.5" height="1.35" fill="#dca040"/>
<rect x="1479.3" y="498.02" width="4.7" height="2.70" fill="#1a2a30"/>
<rect x="1479.3" y="498.02" width="4.7" height="1.35" fill="#5a7880"/>
<rect x="1464.4" y="498.02" width="14.8" height="2.70" fill="#2a1a08"/>
<rect x="1464.4" y="498.02" width="14.8" height="1.35" fill="#dca040"/>
<rect x="1481.6" y="500.72" width="2.4" height="2.70" fill="#1a2a30"/>
<rect x="1481.6" y="500.72" width="2.4" height="1.35" fill="#5a7880"/>
<rect x="1469.9" y="500.72" width="11.8" height="2.70" fill="#2a1a08"/>
<rect x="1469.9" y="500.72" width="11.8" height="1.35" fill="#dca040"/>
<rect x="1483.3" y="503.43" width="0.7" height="2.71" fill="#1a2a30"/>
<rect x="1483.3" y="503.43" width="0.7" height="1.35" fill="#5a7880"/>
<rect x="1470.6" y="503.43" width="12.7" height="2.71" fill="#2a1a08"/>
<rect x="1470.6" y="503.43" width="12.7" height="1.35" fill="#dca040"/>
<rect x="1476.3" y="506.14" width="7.7" height="2.71" fill="#2a1a08"/>
<rect x="1476.3" y="506.14" width="7.7" height="1.36" fill="#dca040"/>
<rect x="1478.2" y="508.85" width="5.8" height="2.71" fill="#2a1a08"/>
<rect x="1478.2" y="508.85" width="5.8" height="1.36" fill="#dca040"/>
<rect x="1478.8" y="511.56" width="5.2" height="2.72" fill="#2a1a08"/>
<rect x="1478.8" y="511.56" width="5.2" height="1.36" fill="#dca040"/>
<rect x="1479.3" y="514.28" width="4.7" height="2.72" fill="#2a1a08"/>
<rect x="1479.3" y="514.28" width="4.7" height="1.36" fill="#dca040"/>
<rect x="0" y="23" width="1484" height="3" fill="#3d5ce0"/>
<rect x="52" y="34" width="1432" height="1.3" fill="#8cd4ec"/>
<rect x="0" y="130.5" width="1484" height="3" fill="#d8182a"/>
<line x1="668" y1="90" x2="1167" y2="90" stroke="#c86a98" stroke-width="1.4" stroke-dasharray="1.8 2.2"/>
<line x1="668" y1="143" x2="1167" y2="143" stroke="#c86a98" stroke-width="1.4" stroke-dasharray="1.8 2.2"/>
<line x1="668" y1="179.3" x2="1167" y2="179.3" stroke="#c86a98" stroke-width="1.4" stroke-dasharray="1.8 2.2"/>
<rect x="440" y="348.5" width="543" height="100" fill="#e89020" fill-opacity="0.13"/>
<rect x="440" y="347.8" width="543" height="1.4" fill="#f0a030"/>
<rect x="440" y="448.3" width="543" height="1.4" fill="#f0a030"/>
<rect x="246" y="325.6" width="737" height="2.5" fill="#e8384a"/>
<rect x="205" y="373" width="778" height="2.5" fill="#e8384a"/>
<rect x="168.5" y="513.1" width="823" height="2.6" fill="#e04060"/>
<rect x="0" y="516.2" width="1484" height="3" fill="#3d5ce0"/>
<rect x="1107" y="438" width="377" height="160" fill="#e88a00" fill-opacity="0.14"/>
<rect x="1107" y="438" width="377" height="127" fill="#e88a00" fill-opacity="0.11"/>
<rect x="1107" y="437.3" width="377" height="1.4" fill="#f0a038"/>
<rect x="1107" y="564.5" width="377" height="1.3" fill="#f0a038"/>
<rect x="0.75" y="353.0" width="1.3" height="52.0" fill="#c05a6e"/>
<rect x="-1.50" y="367.0" width="5.8" height="31.0" fill="#ef5350"/>
<rect x="8.07" y="379.0" width="1.3" height="38.0" fill="#5a9ca6"/>
<rect x="5.82" y="386.0" width="5.8" height="13.5" fill="#26a69a"/>
<rect x="15.40" y="360.5" width="1.3" height="41.5" fill="#5a9ca6"/>
<rect x="13.15" y="365.0" width="5.8" height="21.0" fill="#26a69a"/>
<rect x="22.72" y="359.0" width="1.3" height="46.0" fill="#5a9ca6"/>
<rect x="20.47" y="360.5" width="5.8" height="5.5" fill="#26a69a"/>
<rect x="30.05" y="342.0" width="1.3" height="38.0" fill="#c05a6e"/>
<rect x="27.80" y="361.0" width="5.8" height="9.0" fill="#ef5350"/>
<rect x="37.37" y="359.0" width="1.3" height="35.0" fill="#c05a6e"/>
<rect x="35.12" y="370.0" width="5.8" height="14.0" fill="#ef5350"/>
<rect x="44.69" y="360.0" width="1.3" height="112.0" fill="#c05a6e"/>
<rect x="42.44" y="385.0" width="5.8" height="63.5" fill="#ef5350"/>
<rect x="52.02" y="370.0" width="1.3" height="86.0" fill="#5a9ca6"/>
<rect x="49.77" y="391.0" width="5.8" height="57.5" fill="#26a69a"/>
<rect x="59.34" y="360.0" width="1.3" height="38.0" fill="#5a9ca6"/>
<rect x="57.09" y="366.0" width="5.8" height="25.0" fill="#26a69a"/>
<rect x="66.67" y="349.0" width="1.3" height="28.5" fill="#5a9ca6"/>
<rect x="64.42" y="363.0" width="5.8" height="4.0" fill="#26a69a"/>
<rect x="73.99" y="269.0" width="1.3" height="101.0" fill="#5a9ca6"/>
<rect x="71.74" y="275.0" width="5.8" height="88.0" fill="#26a69a"/>
<rect x="81.31" y="273.5" width="1.3" height="38.5" fill="#c05a6e"/>
<rect x="79.06" y="274.0" width="5.8" height="1.5" fill="#ef5350"/>
<rect x="88.64" y="273.5" width="1.3" height="43.5" fill="#c05a6e"/>
<rect x="86.39" y="275.4" width="5.8" height="31.1" fill="#ef5350"/>
<rect x="95.96" y="303.5" width="1.3" height="61.5" fill="#c05a6e"/>
<rect x="93.71" y="306.0" width="5.8" height="58.0" fill="#ef5350"/>
<rect x="103.29" y="354.0" width="1.3" height="69.5" fill="#5a9ca6"/>
<rect x="101.04" y="356.5" width="5.8" height="7.5" fill="#26a69a"/>
<rect x="110.61" y="354.0" width="1.3" height="36.0" fill="#c05a6e"/>
<rect x="108.36" y="356.5" width="5.8" height="12.5" fill="#ef5350"/>
<rect x="117.93" y="355.0" width="1.3" height="32.0" fill="#5a9ca6"/>
<rect x="115.68" y="366.0" width="5.8" height="3.0" fill="#26a69a"/>
<rect x="125.26" y="299.6" width="1.3" height="77.7" fill="#5a9ca6"/>
<rect x="123.01" y="342.7" width="5.8" height="24.3" fill="#26a69a"/>
<rect x="132.58" y="324.0" width="1.3" height="86.0" fill="#c05a6e"/>
<rect x="130.33" y="342.7" width="5.8" height="43.3" fill="#ef5350"/>
<rect x="139.91" y="367.0" width="1.3" height="40.0" fill="#5a9ca6"/>
<rect x="137.66" y="379.6" width="5.8" height="6.4" fill="#26a69a"/>
<rect x="147.23" y="374.0" width="1.3" height="25.6" fill="#c05a6e"/>
<rect x="144.98" y="379.6" width="5.8" height="5.4" fill="#ef5350"/>
<rect x="154.55" y="349.0" width="1.3" height="82.0" fill="#c05a6e"/>
<rect x="152.30" y="385.0" width="5.8" height="28.0" fill="#ef5350"/>
<rect x="161.88" y="399.0" width="1.3" height="63.0" fill="#c05a6e"/>
<rect x="159.63" y="413.0" width="5.8" height="24.0" fill="#ef5350"/>
<rect x="169.20" y="411.0" width="1.3" height="105.5" fill="#c05a6e"/>
<rect x="166.95" y="436.4" width="5.8" height="23.6" fill="#ef5350"/>
<rect x="176.53" y="357.0" width="1.3" height="131.0" fill="#5a9ca6"/>
<rect x="174.28" y="369.7" width="5.8" height="90.8" fill="#26a69a"/>
<rect x="183.85" y="352.0" width="1.3" height="31.0" fill="#5a9ca6"/>
<rect x="181.60" y="357.0" width="5.8" height="13.0" fill="#26a69a"/>
<rect x="191.17" y="315.8" width="1.3" height="45.2" fill="#5a9ca6"/>
<rect x="188.92" y="331.9" width="5.8" height="25.0" fill="#26a69a"/>
<rect x="198.50" y="313.2" width="1.3" height="33.5" fill="#c05a6e"/>
<rect x="196.25" y="332.0" width="5.8" height="7.9" fill="#ef5350"/>
<rect x="205.82" y="323.8" width="1.3" height="27.1" fill="#5a9ca6"/>
<rect x="203.57" y="336.9" width="5.8" height="3.0" fill="#26a69a"/>
<rect x="213.15" y="327.8" width="1.3" height="13.2" fill="#5a9ca6"/>
<rect x="210.90" y="331.9" width="5.8" height="5.7" fill="#26a69a"/>
<rect x="220.47" y="309.0" width="1.3" height="25.6" fill="#5a9ca6"/>
<rect x="218.22" y="312.0" width="5.8" height="20.8" fill="#26a69a"/>
<rect x="227.79" y="304.2" width="1.3" height="38.7" fill="#c05a6e"/>
<rect x="225.54" y="312.0" width="5.8" height="23.8" fill="#ef5350"/>
<rect x="235.12" y="327.8" width="1.3" height="44.2" fill="#c05a6e"/>
<rect x="232.87" y="335.8" width="5.8" height="28.2" fill="#ef5350"/>
<rect x="242.44" y="283.0" width="1.3" height="92.2" fill="#5a9ca6"/>
<rect x="240.19" y="301.8" width="5.8" height="62.2" fill="#26a69a"/>
<rect x="249.77" y="270.0" width="1.3" height="37.0" fill="#5a9ca6"/>
<rect x="247.52" y="287.4" width="5.8" height="15.4" fill="#26a69a"/>
<rect x="257.09" y="283.0" width="1.3" height="49.4" fill="#c05a6e"/>
<rect x="254.84" y="285.0" width="5.8" height="33.4" fill="#ef5350"/>
<rect x="264.41" y="310.8" width="1.3" height="11.2" fill="#5a9ca6"/>
<rect x="262.16" y="313.5" width="5.8" height="5.5" fill="#26a69a"/>
<rect x="271.74" y="286.5" width="1.3" height="35.5" fill="#5a9ca6"/>
<rect x="269.49" y="294.6" width="5.8" height="20.1" fill="#26a69a"/>
<rect x="279.06" y="286.5" width="1.3" height="39.5" fill="#c05a6e"/>
<rect x="276.81" y="294.6" width="5.8" height="19.4" fill="#ef5350"/>
<rect x="286.39" y="295.0" width="1.3" height="33.7" fill="#5a9ca6"/>
<rect x="284.14" y="300.5" width="5.8" height="13.2" fill="#26a69a"/>
<rect x="293.71" y="242.5" width="1.3" height="69.5" fill="#5a9ca6"/>
<rect x="291.46" y="256.0" width="5.8" height="45.6" fill="#26a69a"/>
<rect x="301.03" y="150.4" width="1.3" height="118.6" fill="#5a9ca6"/>
<rect x="298.78" y="168.7" width="5.8" height="87.3" fill="#26a69a"/>
<rect x="308.36" y="117.5" width="1.3" height="65.5" fill="#5a9ca6"/>
<rect x="306.11" y="141.0" width="5.8" height="28.0" fill="#26a69a"/>
<rect x="315.68" y="129.0" width="1.3" height="23.0" fill="#c05a6e"/>
<rect x="313.43" y="141.4" width="5.8" height="1.6" fill="#ef5350"/>
<rect x="323.01" y="106.0" width="1.3" height="40.5" fill="#5a9ca6"/>
<rect x="320.76" y="113.0" width="5.8" height="30.0" fill="#26a69a"/>
<rect x="330.33" y="41.4" width="1.3" height="73.6" fill="#5a9ca6"/>
<rect x="328.08" y="98.8" width="5.8" height="15.0" fill="#26a69a"/>
<rect x="337.65" y="98.0" width="1.3" height="75.5" fill="#c05a6e"/>
<rect x="335.40" y="99.6" width="5.8" height="36.9" fill="#ef5350"/>
<rect x="344.98" y="95.0" width="1.3" height="53.7" fill="#5a9ca6"/>
<rect x="342.73" y="120.0" width="5.8" height="16.5" fill="#26a69a"/>
<rect x="352.30" y="79.0" width="1.3" height="62.4" fill="#5a9ca6"/>
<rect x="350.05" y="110.0" width="5.8" height="10.0" fill="#26a69a"/>
<rect x="359.63" y="81.0" width="1.3" height="71.0" fill="#c05a6e"/>
<rect x="357.38" y="110.0" width="5.8" height="21.7" fill="#ef5350"/>
<rect x="366.95" y="122.0" width="1.3" height="21.6" fill="#c05a6e"/>
<rect x="364.70" y="132.8" width="5.8" height="1.7" fill="#ef5350"/>
<rect x="374.27" y="116.6" width="1.3" height="41.8" fill="#c05a6e"/>
<rect x="372.02" y="133.7" width="5.8" height="11.3" fill="#ef5350"/>
<rect x="381.60" y="103.3" width="1.3" height="53.7" fill="#5a9ca6"/>
<rect x="379.35" y="142.0" width="5.8" height="3.0" fill="#26a69a"/>
<rect x="388.92" y="92.0" width="1.3" height="73.0" fill="#5a9ca6"/>
<rect x="386.67" y="96.8" width="5.8" height="45.2" fill="#26a69a"/>
<rect x="396.25" y="94.0" width="1.3" height="49.8" fill="#c05a6e"/>
<rect x="394.00" y="97.0" width="5.8" height="20.6" fill="#ef5350"/>
<rect x="403.57" y="104.6" width="1.3" height="40.7" fill="#c05a6e"/>
<rect x="401.32" y="118.0" width="5.8" height="7.7" fill="#ef5350"/>
<rect x="410.89" y="123.6" width="1.3" height="68.4" fill="#c05a6e"/>
<rect x="408.64" y="124.8" width="5.8" height="13.9" fill="#ef5350"/>
<rect x="418.22" y="125.7" width="1.3" height="21.1" fill="#5a9ca6"/>
<rect x="415.97" y="132.6" width="5.8" height="6.1" fill="#26a69a"/>
<rect x="425.54" y="100.0" width="1.3" height="34.8" fill="#5a9ca6"/>
<rect x="423.29" y="106.0" width="5.8" height="27.0" fill="#26a69a"/>
<rect x="432.87" y="100.0" width="1.3" height="42.3" fill="#c05a6e"/>
<rect x="430.62" y="106.0" width="5.8" height="25.7" fill="#ef5350"/>
<rect x="440.19" y="109.0" width="1.3" height="41.7" fill="#c05a6e"/>
<rect x="437.94" y="131.0" width="5.8" height="1.7" fill="#ef5350"/>
<rect x="447.51" y="118.0" width="1.3" height="53.8" fill="#c05a6e"/>
<rect x="445.26" y="132.7" width="5.8" height="2.1" fill="#ef5350"/>
<rect x="454.84" y="115.0" width="1.3" height="62.0" fill="#c05a6e"/>
<rect x="452.59" y="134.8" width="5.8" height="37.6" fill="#ef5350"/>
<rect x="462.16" y="167.0" width="1.3" height="62.6" fill="#c05a6e"/>
<rect x="459.91" y="172.4" width="5.8" height="45.6" fill="#ef5350"/>
<rect x="469.49" y="204.0" width="1.3" height="37.7" fill="#c05a6e"/>
<rect x="467.24" y="218.0" width="5.8" height="14.6" fill="#ef5350"/>
<rect x="476.81" y="190.5" width="1.3" height="52.5" fill="#5a9ca6"/>
<rect x="474.56" y="200.0" width="5.8" height="32.6" fill="#26a69a"/>
<rect x="484.13" y="173.0" width="1.3" height="32.4" fill="#5a9ca6"/>
<rect x="481.88" y="184.5" width="5.8" height="16.5" fill="#26a69a"/>
<rect x="491.46" y="181.0" width="1.3" height="48.0" fill="#c05a6e"/>
<rect x="489.21" y="184.4" width="5.8" height="17.6" fill="#ef5350"/>
<rect x="498.78" y="173.0" width="1.3" height="43.0" fill="#5a9ca6"/>
<rect x="496.53" y="185.0" width="5.8" height="17.0" fill="#26a69a"/>
<rect x="506.11" y="138.8" width="1.3" height="59.6" fill="#5a9ca6"/>
<rect x="503.86" y="141.6" width="5.8" height="44.4" fill="#26a69a"/>
<rect x="513.43" y="139.5" width="1.3" height="30.1" fill="#c05a6e"/>
<rect x="511.18" y="141.6" width="5.8" height="14.0" fill="#ef5350"/>
<rect x="520.75" y="134.6" width="1.3" height="27.0" fill="#c05a6e"/>
<rect x="518.50" y="155.6" width="5.8" height="4.2" fill="#ef5350"/>
<rect x="528.08" y="109.0" width="1.3" height="52.6" fill="#5a9ca6"/>
<rect x="525.83" y="109.0" width="5.8" height="50.0" fill="#26a69a"/>
<rect x="535.40" y="56.3" width="1.3" height="73.7" fill="#c05a6e"/>
<rect x="533.15" y="109.0" width="5.8" height="10.5" fill="#ef5350"/>
<rect x="542.73" y="91.4" width="1.3" height="36.1" fill="#5a9ca6"/>
<rect x="540.48" y="95.0" width="5.8" height="24.5" fill="#26a69a"/>
<rect x="550.05" y="34.9" width="1.3" height="81.1" fill="#5a9ca6"/>
<rect x="547.80" y="41.1" width="5.8" height="53.9" fill="#26a69a"/>
<rect x="557.37" y="23.0" width="1.3" height="122.8" fill="#c05a6e"/>
<rect x="555.12" y="39.1" width="5.8" height="86.3" fill="#ef5350"/>
<rect x="564.70" y="110.0" width="1.3" height="43.5" fill="#c05a6e"/>
<rect x="562.45" y="125.4" width="5.8" height="17.6" fill="#ef5350"/>
<rect x="572.02" y="131.8" width="1.3" height="14.0" fill="#5a9ca6"/>
<rect x="569.77" y="142.3" width="5.8" height="1.4" fill="#26a69a"/>
<rect x="579.35" y="122.3" width="1.3" height="22.7" fill="#c05a6e"/>
<rect x="577.10" y="141.0" width="5.8" height="2.3" fill="#ef5350"/>
<rect x="586.67" y="139.8" width="1.3" height="50.2" fill="#c05a6e"/>
<rect x="584.42" y="142.3" width="5.8" height="21.0" fill="#ef5350"/>
<rect x="593.99" y="155.0" width="1.3" height="76.0" fill="#c05a6e"/>
<rect x="591.74" y="163.3" width="5.8" height="61.7" fill="#ef5350"/>
<rect x="601.32" y="193.5" width="1.3" height="40.0" fill="#5a9ca6"/>
<rect x="599.07" y="199.5" width="5.8" height="26.3" fill="#26a69a"/>
<rect x="608.64" y="190.0" width="1.3" height="50.5" fill="#c05a6e"/>
<rect x="606.39" y="199.5" width="5.8" height="33.3" fill="#ef5350"/>
<rect x="615.97" y="143.3" width="1.3" height="102.7" fill="#5a9ca6"/>
<rect x="613.72" y="152.0" width="5.8" height="80.8" fill="#26a69a"/>
<rect x="623.29" y="151.4" width="1.3" height="41.1" fill="#c05a6e"/>
<rect x="621.04" y="152.0" width="5.8" height="27.5" fill="#ef5350"/>
<rect x="630.61" y="173.0" width="1.3" height="91.0" fill="#c05a6e"/>
<rect x="628.36" y="179.5" width="5.8" height="35.1" fill="#ef5350"/>
<rect x="637.94" y="211.8" width="1.3" height="80.7" fill="#c05a6e"/>
<rect x="635.69" y="214.6" width="5.8" height="62.1" fill="#ef5350"/>
<rect x="645.26" y="232.8" width="1.3" height="71.2" fill="#5a9ca6"/>
<rect x="643.01" y="245.0" width="5.8" height="32.0" fill="#26a69a"/>
<rect x="652.59" y="230.0" width="1.3" height="48.0" fill="#c05a6e"/>
<rect x="650.34" y="245.0" width="5.8" height="10.6" fill="#ef5350"/>
<rect x="659.91" y="214.3" width="1.3" height="47.7" fill="#5a9ca6"/>
<rect x="657.66" y="231.0" width="5.8" height="24.6" fill="#26a69a"/>
<rect x="667.23" y="230.0" width="1.3" height="97.0" fill="#c05a6e"/>
<rect x="664.98" y="231.0" width="5.8" height="80.9" fill="#ef5350"/>
<rect x="674.56" y="301.0" width="1.3" height="28.6" fill="#5a9ca6"/>
<rect x="672.31" y="302.3" width="5.8" height="9.6" fill="#26a69a"/>
<rect x="681.88" y="290.6" width="1.3" height="30.1" fill="#c05a6e"/>
<rect x="679.63" y="302.3" width="5.8" height="11.5" fill="#ef5350"/>
<rect x="689.21" y="283.3" width="1.3" height="48.6" fill="#5a9ca6"/>
<rect x="686.96" y="294.7" width="5.8" height="19.1" fill="#26a69a"/>
<rect x="696.53" y="247.0" width="1.3" height="62.6" fill="#5a9ca6"/>
<rect x="694.28" y="257.0" width="5.8" height="37.7" fill="#26a69a"/>
<rect x="703.85" y="231.0" width="1.3" height="37.3" fill="#5a9ca6"/>
<rect x="701.60" y="247.0" width="5.8" height="10.0" fill="#26a69a"/>
<rect x="711.18" y="238.0" width="1.3" height="35.7" fill="#c05a6e"/>
<rect x="708.93" y="247.0" width="5.8" height="17.2" fill="#ef5350"/>
<line x1="558" y1="24" x2="756" y2="370" stroke="#3ab8d8" stroke-width="1.4"/>
<line x1="557.4" y1="161.5" x2="756" y2="508.5" stroke="#3ab8d8" stroke-width="1.4"/>
<polyline points="671.3,247.6 685,296 697,310.5 733,301 740,372 836,273 882,304 989,152.5 1070.4,364.8 1137,325.5 1173,433.5 1284,377.4 1354.6,479" fill="none" stroke="#aeaec0" stroke-width="1.35" stroke-dasharray="4.6 4.8"/>
<polyline points="1347,477 1354.6,479 1359,471" fill="none" stroke="#b8b8c8" stroke-width="1.4"/>
<text x="1177" y="78.7" font-size="16.5" fill="#e05468" font-weight="normal" text-anchor="start" textLength="146" lengthAdjust="spacingAndGlyphs" stroke="#e05468" stroke-width="0.3">78.60% (120,404.98)</text>
<text x="1177" y="131.5" font-size="16.5" fill="#e05468" font-weight="normal" text-anchor="start" textLength="146" lengthAdjust="spacingAndGlyphs" stroke="#e05468" stroke-width="0.3">61.80% (117,454.66)</text>
<text x="1177" y="167.9" font-size="16.5" fill="#e05468" font-weight="normal" text-anchor="start" textLength="146" lengthAdjust="spacingAndGlyphs" stroke="#e05468" stroke-width="0.3">50.00% (115,425.75)</text>
<text x="994" y="337.3" font-size="16.5" fill="#f0a030" font-weight="normal" text-anchor="start" textLength="146" lengthAdjust="spacingAndGlyphs" stroke="#f0a030" stroke-width="0.3">38.20% (106,509.21)</text>
<text x="994" y="437.8" font-size="16.5" fill="#f0a030" font-weight="normal" text-anchor="start" textLength="146" lengthAdjust="spacingAndGlyphs" stroke="#f0a030" stroke-width="0.3">50.00% (101,569.85)</text>
<text x="671.2 676.6 686.6 692.9 701.4 706.6 715.4 720.4" y="349.6" font-size="15.2" fill="#f2dc5c" stroke="#f2dc5c" stroke-width="0.55">(A)/(4)?</text>
<text x="710" y="427" font-size="15" fill="#f0a030" font-weight="bold" text-anchor="start" textLength="20" lengthAdjust="spacingAndGlyphs">(A)</text>
<text x="746.5" y="422.3" font-size="15" fill="#f0f0f0" font-weight="bold" text-anchor="start" textLength="19.3" lengthAdjust="spacingAndGlyphs">(4)</text>
<text x="981" y="111.5" font-size="15" fill="#f0a030" font-weight="bold" text-anchor="start" textLength="19" lengthAdjust="spacingAndGlyphs">(B)</text>
<text x="1377" y="522.3" font-size="15" fill="#f0a030" font-weight="bold" text-anchor="start" textLength="19" lengthAdjust="spacingAndGlyphs">(C)</text>
<text x="145.5" y="538.5" font-size="15" fill="#f0a030" font-weight="bold" text-anchor="start" textLength="19.5" lengthAdjust="spacingAndGlyphs">(4)</text>
<circle cx="1393.6" cy="587.8" r="9" fill="none" stroke="#f0a030" stroke-width="1.6"/>
<text x="1393.6" y="593.5" font-size="14" fill="#f0a030" font-weight="bold" text-anchor="middle">A</text>
<text x="1456.2" y="579.4" font-size="17" fill="#2ab8c8" font-weight="bold" text-anchor="start" textLength="9.4" lengthAdjust="spacingAndGlyphs">ii</text>
<rect x="1483.6" y="0" width="2" height="598" fill="#4a8cb8"/>
<rect x="1590" y="0" width="6" height="598" fill="#333338"/>
<rect x="1596" y="0" width="4" height="598" fill="#141414"/>
<text x="1497.6" y="41.86072453960951" font-size="16" fill="#c8c8d6" font-weight="normal" text-anchor="start" textLength="78.7" lengthAdjust="spacingAndGlyphs">123,500.00</text>
<text x="1497.6" y="111.35506759844502" font-size="16" fill="#c8c8d6" font-weight="normal" text-anchor="start" textLength="78.7" lengthAdjust="spacingAndGlyphs">119,500.00</text>
<text x="1497.6" y="183.21562506193442" font-size="16" fill="#c8c8d6" font-weight="normal" text-anchor="start" textLength="78.7" lengthAdjust="spacingAndGlyphs">115,500.00</text>
<text x="1497.6" y="257.60922863941306" font-size="16" fill="#c8c8d6" font-weight="normal" text-anchor="start" textLength="78.7" lengthAdjust="spacingAndGlyphs">111,500.00</text>
<text x="1497.6" y="334.72100069122536" font-size="16" fill="#c8c8d6" font-weight="normal" text-anchor="start" textLength="78.7" lengthAdjust="spacingAndGlyphs">107,500.00</text>
<text x="1497.6" y="394.46178103815765" font-size="16" fill="#c8c8d6" font-weight="normal" text-anchor="start" textLength="78.7" lengthAdjust="spacingAndGlyphs">104,500.00</text>
<text x="1497.6" y="435.2495236928451" font-size="16" fill="#c8c8d6" font-weight="normal" text-anchor="start" textLength="78.7" lengthAdjust="spacingAndGlyphs">102,500.00</text>
<text x="1497.6" y="476.8410172199918" font-size="16" fill="#c8c8d6" font-weight="normal" text-anchor="start" textLength="78.7" lengthAdjust="spacingAndGlyphs">100,500.00</text>
<text x="1497.6" y="519.2685764130081" font-size="16" fill="#c8c8d6" font-weight="normal" text-anchor="start" textLength="71.5" lengthAdjust="spacingAndGlyphs">98,500.00</text>
<text x="1497.6" y="562.5665049387433" font-size="16" fill="#c8c8d6" font-weight="normal" text-anchor="start" textLength="71.5" lengthAdjust="spacingAndGlyphs">96,500.00</text>
<text x="1497.6" y="606.7712619738966" font-size="16" fill="#c8c8d6" font-weight="normal" text-anchor="start" textLength="71.5" lengthAdjust="spacingAndGlyphs">94,500.00</text>
<path d="M1485,254 H1581 Q1584,254 1584,257 V292 Q1584,295 1581,295 H1485 Z" fill="#2ec4e2"/>
<text x="1497.6" y="269.6" font-size="16" fill="#0b1a2a" font-weight="normal" text-anchor="start" textLength="78.7" lengthAdjust="spacingAndGlyphs">110,851.78</text>
<text x="1497.6" y="288.3" font-size="16" fill="#0b1a2a" font-weight="normal" text-anchor="start" textLength="62" lengthAdjust="spacingAndGlyphs">14:04:11</text>
<rect x="13.5" y="589" width="16" height="9" fill="#e0e0e6"/>
<circle cx="36.8" cy="593.2" r="4.1" fill="#e0e0e6"/>
<polygon points="48,589 54,589 48.5,598 42.5,598" fill="#e0e0e6"/>
<polygon points="60,589 107,589 104.3,598 57,598" fill="#e0e0e6"/>
<text x="66" y="604" font-size="12" font-weight="bold" fill="#111" font-family="Liberation Sans, sans-serif">PRO</text>
</svg></body></html>
